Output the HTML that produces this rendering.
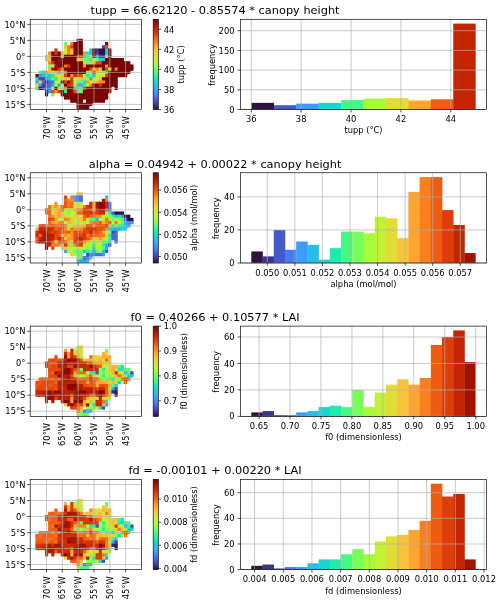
<!DOCTYPE html>
<html><head><meta charset="utf-8"><title>figure</title>
<style>html,body{margin:0;padding:0;background:#fff}svg{display:block}text{font-family:'DejaVu Sans','Liberation Sans',sans-serif;fill:#000}</style>
</head><body>
<svg width="500" height="604" viewBox="0 0 500 604">
<rect width="500" height="604" fill="#fff"/>
<defs>
<linearGradient id="tb" x1="0" y1="0" x2="0" y2="1"><stop offset="0.0000" stop-color="#7a0403"/><stop offset="0.0250" stop-color="#8e0a01"/><stop offset="0.0500" stop-color="#a11201"/><stop offset="0.0750" stop-color="#b41b01"/><stop offset="0.1000" stop-color="#c32503"/><stop offset="0.1250" stop-color="#d02f05"/><stop offset="0.1500" stop-color="#dd3d08"/><stop offset="0.1750" stop-color="#e7490c"/><stop offset="0.2000" stop-color="#f05b12"/><stop offset="0.2250" stop-color="#f66c19"/><stop offset="0.2500" stop-color="#fb7e21"/><stop offset="0.2750" stop-color="#fe932a"/><stop offset="0.3000" stop-color="#fea431"/><stop offset="0.3250" stop-color="#fbb637"/><stop offset="0.3500" stop-color="#f6c33a"/><stop offset="0.3750" stop-color="#eecf3a"/><stop offset="0.4000" stop-color="#e1dd37"/><stop offset="0.4250" stop-color="#d4e735"/><stop offset="0.4500" stop-color="#c3f134"/><stop offset="0.4750" stop-color="#b4f836"/><stop offset="0.5000" stop-color="#a4fc3c"/><stop offset="0.5250" stop-color="#8fff49"/><stop offset="0.5500" stop-color="#79fe59"/><stop offset="0.5750" stop-color="#5dfc6f"/><stop offset="0.6000" stop-color="#46f884"/><stop offset="0.6250" stop-color="#32f298"/><stop offset="0.6500" stop-color="#20eaac"/><stop offset="0.6750" stop-color="#19e2bb"/><stop offset="0.7000" stop-color="#19d5cd"/><stop offset="0.7250" stop-color="#1fc9dd"/><stop offset="0.7500" stop-color="#28bceb"/><stop offset="0.7750" stop-color="#35abf8"/><stop offset="0.8000" stop-color="#3e9bfe"/><stop offset="0.8250" stop-color="#458afc"/><stop offset="0.8500" stop-color="#477bf2"/><stop offset="0.8750" stop-color="#466be3"/><stop offset="0.9000" stop-color="#4559cb"/><stop offset="0.9250" stop-color="#4249b1"/><stop offset="0.9500" stop-color="#3d358b"/><stop offset="0.9750" stop-color="#372466"/><stop offset="1.0000" stop-color="#30123b"/></linearGradient>
</defs>
<text x="215.10" y="14.10" font-size="11.35" text-anchor="middle">tupp = 66.62120 - 0.85574 * canopy height</text>
<g>
<rect x="76.57" y="38.80" width="6.33" height="4.20" fill="#7a0403"/>
<rect x="63.91" y="42.00" width="3.17" height="4.20" fill="#71fe5f"/>
<path d="M70.24 42.00h4.17v3.20h-1.00v1.00h-3.17z" fill="#f9751d"/>
<rect x="73.40" y="42.00" width="9.50" height="4.20" fill="#7a0403"/>
<rect x="105.05" y="42.00" width="3.17" height="4.20" fill="#7a0403"/>
<path d="M63.91 45.20h4.17v3.20h-1.00v1.00h-3.17z" fill="#f4c73a"/>
<path d="M67.07 45.20h4.17v3.20h-1.00v1.00h-3.17z" fill="#fa7b1f"/>
<path d="M70.24 45.20h4.17v3.20h-1.00v1.00h-3.17z" fill="#dd3d08"/>
<rect x="73.40" y="45.20" width="9.50" height="4.20" fill="#7a0403"/>
<path d="M101.89 45.20h4.17v3.20h-1.00v1.00h-3.17z" fill="#4146ac"/>
<rect x="105.05" y="45.20" width="3.17" height="4.20" fill="#ea4e0d"/>
<rect x="54.41" y="48.40" width="3.17" height="4.20" fill="#d23105"/>
<path d="M63.91 48.40h4.17v3.20h-1.00v1.00h-3.17z" fill="#c8ef34"/>
<path d="M67.07 48.40h4.17v3.20h-1.00v1.00h-3.17z" fill="#fb7e21"/>
<path d="M70.24 48.40h4.17v3.20h-1.00v1.00h-3.17z" fill="#fbb838"/>
<rect x="73.40" y="48.40" width="9.50" height="4.20" fill="#7a0403"/>
<path d="M89.23 48.40h4.17v3.20h-1.00v1.00h-3.17z" fill="#23c3e4"/>
<path d="M92.39 48.40h4.17v3.20h-1.00v1.00h-3.17z" fill="#7a0403"/>
<path d="M95.56 48.40h4.17v3.20h-1.00v1.00h-3.17z" fill="#3e3891"/>
<path d="M98.72 48.40h7.33v3.20h-1.00v1.00h-6.33z" fill="#30123b"/>
<path d="M105.05 48.40h4.17v3.20h-1.00v1.00h-3.17z" fill="#27bee9"/>
<rect x="108.22" y="48.40" width="3.17" height="4.20" fill="#7a0403"/>
<path d="M48.08 51.60h4.17v3.20h-1.00v1.00h-3.17z" fill="#fd8d27"/>
<path d="M51.25 51.60h4.17v3.20h-1.00v1.00h-3.17z" fill="#7a0403"/>
<path d="M54.41 51.60h4.17v3.20h-1.00v1.00h-3.17z" fill="#d63506"/>
<path d="M57.58 51.60h4.17v3.20h-1.00v1.00h-3.17z" fill="#7a0403"/>
<path d="M60.74 51.60h4.17v3.20h-1.00v1.00h-3.17z" fill="#f7c13a"/>
<path d="M63.91 51.60h4.17v3.20h-1.00v1.00h-3.17z" fill="#c3f134"/>
<path d="M67.07 51.60h4.17v3.20h-1.00v1.00h-3.17z" fill="#fc8725"/>
<path d="M70.24 51.60h4.17v3.20h-1.00v1.00h-3.17z" fill="#f9bc39"/>
<path d="M73.40 51.60h10.50v3.20h-1.00v1.00h-9.50z" fill="#7a0403"/>
<path d="M82.90 51.60h4.17v3.20h-1.00v1.00h-3.17z" fill="#fe962b"/>
<path d="M86.06 51.60h4.17v3.20h-1.00v1.00h-3.17z" fill="#19e3b9"/>
<path d="M89.23 51.60h4.17v3.20h-1.00v1.00h-3.17z" fill="#20c7df"/>
<path d="M92.39 51.60h4.17v3.20h-1.00v1.00h-3.17z" fill="#7a0403"/>
<path d="M95.56 51.60h4.17v3.20h-1.00v1.00h-3.17z" fill="#4040a2"/>
<path d="M98.72 51.60h7.33v3.20h-1.00v1.00h-6.33z" fill="#30123b"/>
<path d="M105.05 51.60h4.17v3.20h-1.00v1.00h-3.17z" fill="#23c3e4"/>
<rect x="108.22" y="51.60" width="3.17" height="4.20" fill="#7a0403"/>
<path d="M44.92 54.80h4.17v3.20h-1.00v1.00h-3.17z" fill="#e3db38"/>
<path d="M48.08 54.80h4.17v3.20h-1.00v1.00h-3.17z" fill="#f9bc39"/>
<path d="M51.25 54.80h10.50v3.20h-1.00v1.00h-9.50z" fill="#7a0403"/>
<path d="M60.74 54.80h4.17v3.20h-1.00v1.00h-3.17z" fill="#f8be39"/>
<path d="M63.91 54.80h13.66v3.20h-1.00v1.00h-12.66z" fill="#7a0403"/>
<path d="M76.57 54.80h4.17v3.20h-1.00v1.00h-3.17z" fill="#e14109"/>
<path d="M79.73 54.80h4.17v3.20h-1.00v1.00h-3.17z" fill="#e2430a"/>
<path d="M82.90 54.80h4.17v3.20h-1.00v1.00h-3.17z" fill="#22ebaa"/>
<path d="M86.06 54.80h4.17v3.20h-1.00v1.00h-3.17z" fill="#55fa76"/>
<path d="M89.23 54.80h4.17v3.20h-1.00v1.00h-3.17z" fill="#a7fc3a"/>
<path d="M92.39 54.80h4.17v3.20h-1.00v1.00h-3.17z" fill="#7a0403"/>
<path d="M95.56 54.80h4.17v3.20h-1.00v1.00h-3.17z" fill="#25c0e7"/>
<path d="M98.72 54.80h4.17v3.20h-1.00v1.00h-3.17z" fill="#4146ac"/>
<path d="M101.89 54.80h4.17v3.20h-1.00v1.00h-3.17z" fill="#4143a7"/>
<path d="M105.05 54.80h4.17v3.20h-1.00v1.00h-3.17z" fill="#efcd3a"/>
<rect x="108.22" y="54.80" width="3.17" height="4.20" fill="#7a0403"/>
<rect x="44.92" y="58.00" width="4.17" height="3.20" fill="#fbb637"/>
<path d="M48.08 58.00h4.17v3.20h-1.00v1.00h-3.17z" fill="#f8be39"/>
<path d="M51.25 58.00h7.33v3.20h-1.00v1.00h-6.33z" fill="#7a0403"/>
<path d="M57.58 58.00h4.17v3.20h-1.00v1.00h-3.17z" fill="#980e01"/>
<path d="M60.74 58.00h16.82v3.20h-1.00v1.00h-15.82z" fill="#7a0403"/>
<path d="M76.57 58.00h4.17v3.20h-1.00v1.00h-3.17z" fill="#e3db38"/>
<path d="M79.73 58.00h4.17v3.20h-1.00v1.00h-3.17z" fill="#f6c33a"/>
<path d="M82.90 58.00h4.17v3.20h-1.00v1.00h-3.17z" fill="#65fd69"/>
<path d="M86.06 58.00h4.17v3.20h-1.00v1.00h-3.17z" fill="#59fb73"/>
<path d="M89.23 58.00h4.17v3.20h-1.00v1.00h-3.17z" fill="#1fe9af"/>
<path d="M92.39 58.00h4.17v3.20h-1.00v1.00h-3.17z" fill="#b4f836"/>
<path d="M95.56 58.00h4.17v3.20h-1.00v1.00h-3.17z" fill="#69fd66"/>
<path d="M98.72 58.00h4.17v3.20h-1.00v1.00h-3.17z" fill="#1ecbda"/>
<path d="M101.89 58.00h4.17v3.20h-1.00v1.00h-3.17z" fill="#22c5e2"/>
<rect x="105.05" y="58.00" width="18.99" height="4.20" fill="#7a0403"/>
<path d="M48.08 61.20h4.17v3.20h-1.00v1.00h-3.17z" fill="#fc8423"/>
<path d="M51.25 61.20h4.17v3.20h-1.00v1.00h-3.17z" fill="#d83706"/>
<path d="M54.41 61.20h4.17v3.20h-1.00v1.00h-3.17z" fill="#7a0403"/>
<path d="M57.58 61.20h4.17v3.20h-1.00v1.00h-3.17z" fill="#8e0a01"/>
<path d="M60.74 61.20h23.16v3.20h-1.00v1.00h-22.16z" fill="#7a0403"/>
<path d="M82.90 61.20h4.17v3.20h-1.00v1.00h-3.17z" fill="#f5c53a"/>
<path d="M86.06 61.20h4.17v3.20h-1.00v1.00h-3.17z" fill="#69fd66"/>
<path d="M89.23 61.20h4.17v3.20h-1.00v1.00h-3.17z" fill="#f2c93a"/>
<path d="M92.39 61.20h4.17v3.20h-1.00v1.00h-3.17z" fill="#f6c33a"/>
<path d="M95.56 61.20h4.17v3.20h-1.00v1.00h-3.17z" fill="#e5470b"/>
<path d="M98.72 61.20h4.17v3.20h-1.00v1.00h-3.17z" fill="#e84b0c"/>
<rect x="101.89" y="61.20" width="28.48" height="4.20" fill="#7a0403"/>
<path d="M48.08 64.40h4.17v3.20h-1.00v1.00h-3.17z" fill="#71fe5f"/>
<path d="M51.25 64.40h4.17v3.20h-1.00v1.00h-3.17z" fill="#c8ef34"/>
<path d="M54.41 64.40h4.17v3.20h-1.00v1.00h-3.17z" fill="#a11201"/>
<path d="M57.58 64.40h7.33v3.20h-1.00v1.00h-6.33z" fill="#7a0403"/>
<path d="M63.91 64.40h4.17v3.20h-1.00v1.00h-3.17z" fill="#f8721c"/>
<path d="M67.07 64.40h4.17v3.20h-1.00v1.00h-3.17z" fill="#d83706"/>
<path d="M70.24 64.40h13.66v3.20h-1.00v1.00h-12.66z" fill="#7a0403"/>
<path d="M82.90 64.40h4.17v3.20h-1.00v1.00h-3.17z" fill="#fe932a"/>
<path d="M86.06 64.40h19.99v3.20h-1.00v1.00h-18.99z" fill="#7a0403"/>
<path d="M105.05 64.40h4.17v3.20h-1.00v1.00h-3.17z" fill="#fb8122"/>
<rect x="108.22" y="64.40" width="25.32" height="4.20" fill="#7a0403"/>
<path d="M48.08 67.60h4.17v3.20h-1.00v1.00h-3.17z" fill="#f9bc39"/>
<path d="M51.25 67.60h4.17v3.20h-1.00v1.00h-3.17z" fill="#a91601"/>
<path d="M54.41 67.60h4.17v3.20h-1.00v1.00h-3.17z" fill="#7a0403"/>
<path d="M57.58 67.60h4.17v3.20h-1.00v1.00h-3.17z" fill="#d83706"/>
<path d="M60.74 67.60h4.17v3.20h-1.00v1.00h-3.17z" fill="#f9751d"/>
<path d="M63.91 67.60h26.32v3.20h-1.00v1.00h-25.32z" fill="#7a0403"/>
<path d="M89.23 67.60h4.17v3.20h-1.00v1.00h-3.17z" fill="#dd3d08"/>
<path d="M92.39 67.60h4.17v3.20h-1.00v1.00h-3.17z" fill="#fbb637"/>
<path d="M95.56 67.60h4.17v3.20h-1.00v1.00h-3.17z" fill="#fb7e21"/>
<path d="M98.72 67.60h4.17v3.20h-1.00v1.00h-3.17z" fill="#f4c73a"/>
<path d="M101.89 67.60h4.17v3.20h-1.00v1.00h-3.17z" fill="#7a0403"/>
<path d="M105.05 67.60h4.17v3.20h-1.00v1.00h-3.17z" fill="#e4450a"/>
<path d="M108.22 67.60h4.17v3.20h-1.00v1.00h-3.17z" fill="#c1f334"/>
<path d="M111.38 67.60h4.17v3.20h-1.00v1.00h-3.17z" fill="#7a0403"/>
<path d="M114.55 67.60h4.17v3.20h-1.00v1.00h-3.17z" fill="#fa7b1f"/>
<path d="M117.71 67.60h13.66v3.20h-1.00v1.00h-12.66z" fill="#7a0403"/>
<rect x="130.37" y="67.60" width="3.17" height="3.20" fill="#7a0403"/>
<path d="M38.59 70.80h4.17v3.20h-1.00v1.00h-3.17z" fill="#4ef97d"/>
<path d="M41.75 70.80h4.17v3.20h-1.00v1.00h-3.17z" fill="#19e2bb"/>
<path d="M44.92 70.80h4.17v3.20h-1.00v1.00h-3.17z" fill="#fe962b"/>
<path d="M48.08 70.80h4.17v3.20h-1.00v1.00h-3.17z" fill="#f5c53a"/>
<path d="M51.25 70.80h4.17v3.20h-1.00v1.00h-3.17z" fill="#b4f836"/>
<path d="M54.41 70.80h4.17v3.20h-1.00v1.00h-3.17z" fill="#faba39"/>
<path d="M57.58 70.80h4.17v3.20h-1.00v1.00h-3.17z" fill="#fe9029"/>
<path d="M60.74 70.80h4.17v3.20h-1.00v1.00h-3.17z" fill="#cbed34"/>
<path d="M63.91 70.80h4.17v3.20h-1.00v1.00h-3.17z" fill="#f9781e"/>
<path d="M67.07 70.80h19.99v3.20h-1.00v1.00h-18.99z" fill="#7a0403"/>
<path d="M86.06 70.80h4.17v3.20h-1.00v1.00h-3.17z" fill="#a9fb39"/>
<path d="M89.23 70.80h4.17v3.20h-1.00v1.00h-3.17z" fill="#affa37"/>
<path d="M92.39 70.80h4.17v3.20h-1.00v1.00h-3.17z" fill="#e2430a"/>
<path d="M95.56 70.80h4.17v3.20h-1.00v1.00h-3.17z" fill="#b7f735"/>
<path d="M98.72 70.80h4.17v3.20h-1.00v1.00h-3.17z" fill="#c8ef34"/>
<path d="M101.89 70.80h4.17v3.20h-1.00v1.00h-3.17z" fill="#bcf534"/>
<path d="M105.05 70.80h4.17v3.20h-1.00v1.00h-3.17z" fill="#27eea4"/>
<path d="M108.22 70.80h19.99v3.20h-1.00v1.00h-18.99z" fill="#7a0403"/>
<rect x="127.21" y="70.80" width="3.17" height="3.20" fill="#7a0403"/>
<path d="M35.42 74.00h4.17v3.20h-1.00v1.00h-3.17z" fill="#7a0403"/>
<path d="M38.59 74.00h4.17v3.20h-1.00v1.00h-3.17z" fill="#4391fe"/>
<path d="M41.75 74.00h4.17v3.20h-1.00v1.00h-3.17z" fill="#1fc9dd"/>
<path d="M44.92 74.00h4.17v3.20h-1.00v1.00h-3.17z" fill="#1ae4b6"/>
<path d="M48.08 74.00h4.17v3.20h-1.00v1.00h-3.17z" fill="#1ccdd8"/>
<path d="M51.25 74.00h4.17v3.20h-1.00v1.00h-3.17z" fill="#1fe9af"/>
<path d="M54.41 74.00h4.17v3.20h-1.00v1.00h-3.17z" fill="#f2c93a"/>
<path d="M57.58 74.00h4.17v3.20h-1.00v1.00h-3.17z" fill="#c1f334"/>
<path d="M60.74 74.00h4.17v3.20h-1.00v1.00h-3.17z" fill="#c6f034"/>
<path d="M63.91 74.00h4.17v3.20h-1.00v1.00h-3.17z" fill="#df3f08"/>
<path d="M67.07 74.00h4.17v3.20h-1.00v1.00h-3.17z" fill="#7a0403"/>
<path d="M70.24 74.00h4.17v3.20h-1.00v1.00h-3.17z" fill="#fd8a26"/>
<path d="M73.40 74.00h4.17v3.20h-1.00v1.00h-3.17z" fill="#d43305"/>
<path d="M76.57 74.00h4.17v3.20h-1.00v1.00h-3.17z" fill="#df3f08"/>
<path d="M79.73 74.00h4.17v3.20h-1.00v1.00h-3.17z" fill="#e5470b"/>
<path d="M82.90 74.00h4.17v3.20h-1.00v1.00h-3.17z" fill="#bef434"/>
<path d="M86.06 74.00h4.17v3.20h-1.00v1.00h-3.17z" fill="#20eaac"/>
<path d="M89.23 74.00h4.17v3.20h-1.00v1.00h-3.17z" fill="#5dfc6f"/>
<path d="M92.39 74.00h4.17v3.20h-1.00v1.00h-3.17z" fill="#37a8fa"/>
<path d="M95.56 74.00h4.17v3.20h-1.00v1.00h-3.17z" fill="#b7f735"/>
<path d="M98.72 74.00h4.17v3.20h-1.00v1.00h-3.17z" fill="#b9f635"/>
<path d="M101.89 74.00h4.17v3.20h-1.00v1.00h-3.17z" fill="#e1dd37"/>
<path d="M105.05 74.00h4.17v3.20h-1.00v1.00h-3.17z" fill="#e4450a"/>
<path d="M108.22 74.00h10.50v3.20h-1.00v1.00h-9.50z" fill="#7a0403"/>
<rect x="117.71" y="74.00" width="9.50" height="3.20" fill="#7a0403"/>
<path d="M35.42 77.20h4.17v3.20h-1.00v1.00h-3.17z" fill="#18e0bd"/>
<path d="M38.59 77.20h4.17v3.20h-1.00v1.00h-3.17z" fill="#424bb5"/>
<path d="M41.75 77.20h4.17v3.20h-1.00v1.00h-3.17z" fill="#4249b1"/>
<path d="M44.92 77.20h4.17v3.20h-1.00v1.00h-3.17z" fill="#3e9bfe"/>
<path d="M48.08 77.20h4.17v3.20h-1.00v1.00h-3.17z" fill="#18e0bd"/>
<path d="M51.25 77.20h4.17v3.20h-1.00v1.00h-3.17z" fill="#52fa7a"/>
<path d="M54.41 77.20h4.17v3.20h-1.00v1.00h-3.17z" fill="#1de7b2"/>
<path d="M57.58 77.20h4.17v3.20h-1.00v1.00h-3.17z" fill="#b1f936"/>
<path d="M60.74 77.20h4.17v3.20h-1.00v1.00h-3.17z" fill="#e3db38"/>
<path d="M63.91 77.20h4.17v3.20h-1.00v1.00h-3.17z" fill="#faba39"/>
<path d="M67.07 77.20h4.17v3.20h-1.00v1.00h-3.17z" fill="#cdec34"/>
<path d="M70.24 77.20h4.17v3.20h-1.00v1.00h-3.17z" fill="#da3907"/>
<path d="M73.40 77.20h4.17v3.20h-1.00v1.00h-3.17z" fill="#cbed34"/>
<path d="M76.57 77.20h4.17v3.20h-1.00v1.00h-3.17z" fill="#b9f635"/>
<path d="M79.73 77.20h4.17v3.20h-1.00v1.00h-3.17z" fill="#f6c33a"/>
<path d="M82.90 77.20h4.17v3.20h-1.00v1.00h-3.17z" fill="#6dfe62"/>
<path d="M86.06 77.20h4.17v3.20h-1.00v1.00h-3.17z" fill="#a7fc3a"/>
<path d="M89.23 77.20h4.17v3.20h-1.00v1.00h-3.17z" fill="#3ba0fd"/>
<path d="M92.39 77.20h4.17v3.20h-1.00v1.00h-3.17z" fill="#bcf534"/>
<path d="M95.56 77.20h4.17v3.20h-1.00v1.00h-3.17z" fill="#affa37"/>
<path d="M98.72 77.20h4.17v3.20h-1.00v1.00h-3.17z" fill="#f7c13a"/>
<rect x="101.89" y="77.20" width="15.82" height="4.20" fill="#7a0403"/>
<path d="M35.42 80.40h4.17v3.20h-1.00v1.00h-3.17z" fill="#3ba0fd"/>
<path d="M38.59 80.40h4.17v3.20h-1.00v1.00h-3.17z" fill="#f1cb3a"/>
<path d="M41.75 80.40h4.17v3.20h-1.00v1.00h-3.17z" fill="#476ee6"/>
<path d="M44.92 80.40h4.17v3.20h-1.00v1.00h-3.17z" fill="#3e3891"/>
<path d="M48.08 80.40h4.17v3.20h-1.00v1.00h-3.17z" fill="#466be3"/>
<path d="M51.25 80.40h4.17v3.20h-1.00v1.00h-3.17z" fill="#4773eb"/>
<path d="M54.41 80.40h4.17v3.20h-1.00v1.00h-3.17z" fill="#a4fc3c"/>
<path d="M57.58 80.40h4.17v3.20h-1.00v1.00h-3.17z" fill="#b1f936"/>
<path d="M60.74 80.40h4.17v3.20h-1.00v1.00h-3.17z" fill="#7a0403"/>
<path d="M63.91 80.40h4.17v3.20h-1.00v1.00h-3.17z" fill="#e14109"/>
<path d="M67.07 80.40h4.17v3.20h-1.00v1.00h-3.17z" fill="#7a0403"/>
<path d="M70.24 80.40h4.17v3.20h-1.00v1.00h-3.17z" fill="#dc3b07"/>
<path d="M73.40 80.40h4.17v3.20h-1.00v1.00h-3.17z" fill="#b7f735"/>
<path d="M76.57 80.40h4.17v3.20h-1.00v1.00h-3.17z" fill="#59fb73"/>
<path d="M79.73 80.40h4.17v3.20h-1.00v1.00h-3.17z" fill="#61fc6c"/>
<path d="M82.90 80.40h4.17v3.20h-1.00v1.00h-3.17z" fill="#1ae4b6"/>
<path d="M86.06 80.40h4.17v3.20h-1.00v1.00h-3.17z" fill="#fe932a"/>
<path d="M89.23 80.40h4.17v3.20h-1.00v1.00h-3.17z" fill="#bef434"/>
<path d="M92.39 80.40h4.17v3.20h-1.00v1.00h-3.17z" fill="#f2c93a"/>
<path d="M95.56 80.40h4.17v3.20h-1.00v1.00h-3.17z" fill="#fbb838"/>
<path d="M98.72 80.40h4.17v3.20h-1.00v1.00h-3.17z" fill="#fc8423"/>
<path d="M101.89 80.40h4.17v3.20h-1.00v1.00h-3.17z" fill="#fc8725"/>
<rect x="105.05" y="80.40" width="12.66" height="4.20" fill="#7a0403"/>
<path d="M35.42 83.60h4.17v3.20h-1.00v1.00h-3.17z" fill="#f1cb3a"/>
<path d="M38.59 83.60h4.17v3.20h-1.00v1.00h-3.17z" fill="#4196ff"/>
<path d="M41.75 83.60h4.17v3.20h-1.00v1.00h-3.17z" fill="#4040a2"/>
<path d="M44.92 83.60h4.17v3.20h-1.00v1.00h-3.17z" fill="#4661d6"/>
<path d="M48.08 83.60h4.17v3.20h-1.00v1.00h-3.17z" fill="#4666dd"/>
<path d="M51.25 83.60h4.17v3.20h-1.00v1.00h-3.17z" fill="#4099ff"/>
<path d="M54.41 83.60h4.17v3.20h-1.00v1.00h-3.17z" fill="#a9fb39"/>
<path d="M57.58 83.60h4.17v3.20h-1.00v1.00h-3.17z" fill="#38a5fb"/>
<path d="M60.74 83.60h4.17v3.20h-1.00v1.00h-3.17z" fill="#acfb38"/>
<path d="M63.91 83.60h4.17v3.20h-1.00v1.00h-3.17z" fill="#7a0403"/>
<path d="M67.07 83.60h4.17v3.20h-1.00v1.00h-3.17z" fill="#d63506"/>
<path d="M70.24 83.60h4.17v3.20h-1.00v1.00h-3.17z" fill="#dc3b07"/>
<path d="M73.40 83.60h4.17v3.20h-1.00v1.00h-3.17z" fill="#bef434"/>
<path d="M76.57 83.60h4.17v3.20h-1.00v1.00h-3.17z" fill="#3d9efe"/>
<path d="M79.73 83.60h4.17v3.20h-1.00v1.00h-3.17z" fill="#3aa3fc"/>
<path d="M82.90 83.60h4.17v3.20h-1.00v1.00h-3.17z" fill="#25eca7"/>
<path d="M86.06 83.60h4.17v3.20h-1.00v1.00h-3.17z" fill="#c3f134"/>
<path d="M89.23 83.60h4.17v3.20h-1.00v1.00h-3.17z" fill="#fb8122"/>
<path d="M92.39 83.60h7.33v3.20h-1.00v1.00h-6.33z" fill="#7a0403"/>
<path d="M98.72 83.60h4.17v3.20h-1.00v1.00h-3.17z" fill="#d43305"/>
<path d="M101.89 83.60h10.50v3.20h-1.00v1.00h-9.50z" fill="#7a0403"/>
<rect x="111.38" y="83.60" width="4.17" height="3.20" fill="#7a0403"/>
<rect x="114.55" y="83.60" width="3.17" height="4.20" fill="#7a0403"/>
<rect x="35.42" y="86.80" width="4.17" height="3.20" fill="#4ef97d"/>
<rect x="38.59" y="86.80" width="4.17" height="3.20" fill="#30123b"/>
<rect x="41.75" y="86.80" width="4.17" height="3.20" fill="#3f3e9c"/>
<path d="M44.92 86.80h4.17v3.20h-1.00v1.00h-3.17z" fill="#4669e0"/>
<path d="M48.08 86.80h4.17v3.20h-1.00v1.00h-3.17z" fill="#4771e9"/>
<path d="M51.25 86.80h4.17v3.20h-1.00v1.00h-3.17z" fill="#a4fc3c"/>
<path d="M54.41 86.80h4.17v3.20h-1.00v1.00h-3.17z" fill="#7a0403"/>
<path d="M57.58 86.80h4.17v3.20h-1.00v1.00h-3.17z" fill="#c6f034"/>
<path d="M60.74 86.80h4.17v3.20h-1.00v1.00h-3.17z" fill="#acfb38"/>
<path d="M63.91 86.80h4.17v3.20h-1.00v1.00h-3.17z" fill="#fe9029"/>
<path d="M67.07 86.80h7.33v3.20h-1.00v1.00h-6.33z" fill="#7a0403"/>
<path d="M73.40 86.80h4.17v3.20h-1.00v1.00h-3.17z" fill="#1ce6b4"/>
<path d="M76.57 86.80h4.17v3.20h-1.00v1.00h-3.17z" fill="#61fc6c"/>
<path d="M79.73 86.80h4.17v3.20h-1.00v1.00h-3.17z" fill="#55fa76"/>
<path d="M82.90 86.80h4.17v3.20h-1.00v1.00h-3.17z" fill="#e7490c"/>
<rect x="86.06" y="86.80" width="25.32" height="4.20" fill="#7a0403"/>
<rect x="114.55" y="86.80" width="3.17" height="3.20" fill="#7a0403"/>
<path d="M44.92 90.00h4.17v3.20h-1.00v1.00h-3.17z" fill="#3f3b97"/>
<rect x="48.08" y="90.00" width="4.17" height="3.20" fill="#448ffe"/>
<path d="M51.25 90.00h4.17v3.20h-1.00v1.00h-3.17z" fill="#e84b0c"/>
<rect x="54.41" y="90.00" width="4.17" height="3.20" fill="#fd8d27"/>
<rect x="57.58" y="90.00" width="4.17" height="3.20" fill="#da3907"/>
<path d="M60.74 90.00h4.17v3.20h-1.00v1.00h-3.17z" fill="#7a0403"/>
<path d="M63.91 90.00h4.17v3.20h-1.00v1.00h-3.17z" fill="#22ebaa"/>
<path d="M67.07 90.00h7.33v3.20h-1.00v1.00h-6.33z" fill="#7a0403"/>
<path d="M73.40 90.00h4.17v3.20h-1.00v1.00h-3.17z" fill="#e7490c"/>
<path d="M76.57 90.00h4.17v3.20h-1.00v1.00h-3.17z" fill="#5dfc6f"/>
<path d="M79.73 90.00h4.17v3.20h-1.00v1.00h-3.17z" fill="#65fd69"/>
<path d="M82.90 90.00h26.32v3.20h-1.00v1.00h-25.32z" fill="#7a0403"/>
<rect x="108.22" y="90.00" width="3.17" height="3.20" fill="#7a0403"/>
<rect x="44.92" y="93.20" width="3.17" height="3.20" fill="#30123b"/>
<rect x="51.25" y="93.20" width="3.17" height="3.20" fill="#6dfe62"/>
<rect x="60.74" y="93.20" width="4.17" height="3.20" fill="#7a0403"/>
<rect x="63.91" y="93.20" width="44.31" height="4.20" fill="#7a0403"/>
<rect x="63.91" y="96.40" width="7.33" height="3.20" fill="#7a0403"/>
<path d="M70.24 96.40h13.66v3.20h-1.00v1.00h-12.66z" fill="#7a0403"/>
<rect x="82.90" y="96.40" width="4.17" height="3.20" fill="#7a0403"/>
<path d="M86.06 96.40h19.99v3.20h-1.00v1.00h-18.99z" fill="#7a0403"/>
<rect x="105.05" y="96.40" width="3.17" height="3.20" fill="#7a0403"/>
<rect x="70.24" y="99.60" width="7.33" height="3.20" fill="#7a0403"/>
<rect x="76.57" y="99.60" width="6.33" height="4.20" fill="#7a0403"/>
<path d="M86.06 99.60h7.33v3.20h-1.00v1.00h-6.33z" fill="#7a0403"/>
<rect x="92.39" y="99.60" width="12.66" height="3.20" fill="#7a0403"/>
<path d="M76.57 102.80h13.66v3.20h-1.00v1.00h-12.66z" fill="#7a0403"/>
<rect x="89.23" y="102.80" width="3.17" height="3.20" fill="#7a0403"/>
<rect x="76.57" y="106.00" width="12.66" height="3.20" fill="#7a0403"/>
</g>
<path d="M46.50 19.30V109.55M62.33 19.30V109.55M78.15 19.30V109.55M93.97 19.30V109.55M109.80 19.30V109.55M125.62 19.30V109.55M30.20 24.40H141.50M30.20 40.40H141.50M30.20 56.40H141.50M30.20 72.40H141.50M30.20 88.40H141.50M30.20 104.40H141.50" stroke="#b0b0b0" stroke-width="0.67" fill="none"/>
<path d="M46.50 109.55v2.9M62.33 109.55v2.9M78.15 109.55v2.9M93.97 109.55v2.9M109.80 109.55v2.9M125.62 109.55v2.9M30.20 24.40h-2.9M30.20 40.40h-2.9M30.20 56.40h-2.9M30.20 72.40h-2.9M30.20 88.40h-2.9M30.20 104.40h-2.9" stroke="#000" stroke-width="0.67" fill="none"/>
<rect x="30.20" y="19.30" width="111.30" height="90.25" fill="none" stroke="#000" stroke-width="0.67"/>
<text transform="translate(49.60 116.15) rotate(-90)" text-anchor="end" font-size="8.33">70°W</text>
<text transform="translate(65.42 116.15) rotate(-90)" text-anchor="end" font-size="8.33">65°W</text>
<text transform="translate(81.25 116.15) rotate(-90)" text-anchor="end" font-size="8.33">60°W</text>
<text transform="translate(97.07 116.15) rotate(-90)" text-anchor="end" font-size="8.33">55°W</text>
<text transform="translate(112.90 116.15) rotate(-90)" text-anchor="end" font-size="8.33">50°W</text>
<text transform="translate(128.72 116.15) rotate(-90)" text-anchor="end" font-size="8.33">45°W</text>
<text x="25.40" y="27.50" text-anchor="end" font-size="8.33">10°N</text>
<text x="25.40" y="43.50" text-anchor="end" font-size="8.33">5°N</text>
<text x="25.40" y="59.50" text-anchor="end" font-size="8.33">0°</text>
<text x="25.40" y="75.50" text-anchor="end" font-size="8.33">5°S</text>
<text x="25.40" y="91.50" text-anchor="end" font-size="8.33">10°S</text>
<text x="25.40" y="107.50" text-anchor="end" font-size="8.33">15°S</text>
<rect x="153.20" y="19.30" width="5.10" height="90.25" fill="url(#tb)" stroke="#000" stroke-width="0.67"/>
<text x="163.80" y="112.85" font-size="8.33">36</text>
<text x="163.80" y="92.79" font-size="8.33">38</text>
<text x="163.80" y="72.74" font-size="8.33">40</text>
<text x="163.80" y="52.68" font-size="8.33">42</text>
<text x="163.80" y="32.63" font-size="8.33">44</text>
<path d="M158.30 109.55h2.9M158.30 89.49h2.9M158.30 69.44h2.9M158.30 49.38h2.9M158.30 29.33h2.9" stroke="#000" stroke-width="0.67" fill="none"/>
<text transform="translate(184.40 64.42) rotate(-90)" text-anchor="middle" font-size="8.33">tupp (°C)</text>
<rect x="251.30" y="102.85" width="22.74" height="6.70" fill="#30123b"/>
<rect x="273.74" y="105.21" width="22.74" height="4.34" fill="#4559cb"/>
<rect x="296.18" y="103.64" width="22.74" height="5.91" fill="#3e9bfe"/>
<rect x="318.62" y="102.85" width="22.74" height="6.70" fill="#19d5cd"/>
<rect x="341.06" y="100.09" width="22.74" height="9.46" fill="#46f884"/>
<rect x="363.50" y="98.51" width="22.74" height="11.04" fill="#a4fc3c"/>
<rect x="385.94" y="98.12" width="22.74" height="11.43" fill="#e1dd37"/>
<rect x="408.38" y="100.48" width="22.74" height="9.07" fill="#fea431"/>
<rect x="430.82" y="99.30" width="22.74" height="10.25" fill="#f05b12"/>
<rect x="453.26" y="23.60" width="22.44" height="85.95" fill="#c32503"/>
<text x="251.30" y="122.35" text-anchor="middle" font-size="8.33">36</text>
<text x="301.17" y="122.35" text-anchor="middle" font-size="8.33">38</text>
<text x="351.03" y="122.35" text-anchor="middle" font-size="8.33">40</text>
<text x="400.90" y="122.35" text-anchor="middle" font-size="8.33">42</text>
<text x="450.77" y="122.35" text-anchor="middle" font-size="8.33">44</text>
<text x="234.50" y="112.65" text-anchor="end" font-size="8.33">0</text>
<text x="234.50" y="92.94" text-anchor="end" font-size="8.33">50</text>
<text x="234.50" y="73.22" text-anchor="end" font-size="8.33">100</text>
<text x="234.50" y="53.51" text-anchor="end" font-size="8.33">150</text>
<text x="234.50" y="33.79" text-anchor="end" font-size="8.33">200</text>
<path d="M251.30 19.30V109.55M301.17 19.30V109.55M351.03 19.30V109.55M400.90 19.30V109.55M450.77 19.30V109.55M240.40 109.55H486.60M240.40 89.84H486.60M240.40 70.12H486.60M240.40 50.41H486.60M240.40 30.69H486.60" stroke="#b0b0b0" stroke-width="0.67" fill="none"/>
<path d="M251.30 109.55v2.9M301.17 109.55v2.9M351.03 109.55v2.9M400.90 109.55v2.9M450.77 109.55v2.9M240.40 109.55h-2.9M240.40 89.84h-2.9M240.40 70.12h-2.9M240.40 50.41h-2.9M240.40 30.69h-2.9" stroke="#000" stroke-width="0.67" fill="none"/>
<rect x="240.40" y="19.30" width="246.20" height="90.25" fill="none" stroke="#000" stroke-width="0.67"/>
<text x="363.50" y="133.45" text-anchor="middle" font-size="8.33">tupp (°C)</text>
<text transform="translate(215.40 65.02) rotate(-90)" text-anchor="middle" font-size="8.33">frequency</text>
<text x="215.10" y="167.55" font-size="11.35" text-anchor="middle">alpha = 0.04942 + 0.00022 * canopy height</text>
<g>
<rect x="76.57" y="192.25" width="6.33" height="4.20" fill="#efcd3a"/>
<rect x="63.91" y="195.45" width="3.17" height="4.20" fill="#e2430a"/>
<path d="M70.24 195.45h4.17v3.20h-1.00v1.00h-3.17z" fill="#fa7b1f"/>
<path d="M73.40 195.45h4.17v3.20h-1.00v1.00h-3.17z" fill="#37a8fa"/>
<path d="M76.57 195.45h4.17v3.20h-1.00v1.00h-3.17z" fill="#4669e0"/>
<rect x="79.73" y="195.45" width="3.17" height="4.20" fill="#4771e9"/>
<rect x="105.05" y="195.45" width="3.17" height="4.20" fill="#1ecbda"/>
<path d="M63.91 198.65h4.17v3.20h-1.00v1.00h-3.17z" fill="#f36315"/>
<path d="M67.07 198.65h4.17v3.20h-1.00v1.00h-3.17z" fill="#fa7b1f"/>
<path d="M70.24 198.65h4.17v3.20h-1.00v1.00h-3.17z" fill="#fe9029"/>
<path d="M73.40 198.65h4.17v3.20h-1.00v1.00h-3.17z" fill="#35abf8"/>
<path d="M76.57 198.65h4.17v3.20h-1.00v1.00h-3.17z" fill="#466be3"/>
<rect x="79.73" y="198.65" width="3.17" height="4.20" fill="#476ee6"/>
<path d="M101.89 198.65h4.17v3.20h-1.00v1.00h-3.17z" fill="#ac1701"/>
<rect x="105.05" y="198.65" width="3.17" height="4.20" fill="#fc8725"/>
<rect x="54.41" y="201.85" width="3.17" height="4.20" fill="#fe932a"/>
<path d="M63.91 201.85h4.17v3.20h-1.00v1.00h-3.17z" fill="#ec530f"/>
<path d="M67.07 201.85h4.17v3.20h-1.00v1.00h-3.17z" fill="#fa7b1f"/>
<path d="M70.24 201.85h4.17v3.20h-1.00v1.00h-3.17z" fill="#f56918"/>
<path d="M73.40 201.85h4.17v3.20h-1.00v1.00h-3.17z" fill="#dde037"/>
<rect x="76.57" y="201.85" width="6.33" height="4.20" fill="#d7e535"/>
<path d="M89.23 201.85h4.17v3.20h-1.00v1.00h-3.17z" fill="#cc2b04"/>
<path d="M92.39 201.85h4.17v3.20h-1.00v1.00h-3.17z" fill="#fcb336"/>
<path d="M95.56 201.85h4.17v3.20h-1.00v1.00h-3.17z" fill="#a71401"/>
<path d="M98.72 201.85h4.17v3.20h-1.00v1.00h-3.17z" fill="#850702"/>
<path d="M101.89 201.85h4.17v3.20h-1.00v1.00h-3.17z" fill="#920b01"/>
<path d="M105.05 201.85h4.17v3.20h-1.00v1.00h-3.17z" fill="#ca2a04"/>
<rect x="108.22" y="201.85" width="3.17" height="4.20" fill="#4773eb"/>
<path d="M48.08 205.05h4.17v3.20h-1.00v1.00h-3.17z" fill="#f9781e"/>
<path d="M51.25 205.05h4.17v3.20h-1.00v1.00h-3.17z" fill="#fbb637"/>
<path d="M54.41 205.05h4.17v3.20h-1.00v1.00h-3.17z" fill="#fe932a"/>
<path d="M57.58 205.05h4.17v3.20h-1.00v1.00h-3.17z" fill="#f5c53a"/>
<path d="M60.74 205.05h4.17v3.20h-1.00v1.00h-3.17z" fill="#f46617"/>
<path d="M63.91 205.05h4.17v3.20h-1.00v1.00h-3.17z" fill="#ec530f"/>
<path d="M67.07 205.05h4.17v3.20h-1.00v1.00h-3.17z" fill="#f9781e"/>
<path d="M70.24 205.05h4.17v3.20h-1.00v1.00h-3.17z" fill="#f56918"/>
<path d="M73.40 205.05h4.17v3.20h-1.00v1.00h-3.17z" fill="#dbe236"/>
<path d="M76.57 205.05h7.33v3.20h-1.00v1.00h-6.33z" fill="#dfdf37"/>
<path d="M82.90 205.05h4.17v3.20h-1.00v1.00h-3.17z" fill="#f9751d"/>
<path d="M86.06 205.05h4.17v3.20h-1.00v1.00h-3.17z" fill="#d43305"/>
<path d="M89.23 205.05h4.17v3.20h-1.00v1.00h-3.17z" fill="#cc2b04"/>
<path d="M92.39 205.05h4.17v3.20h-1.00v1.00h-3.17z" fill="#fcb336"/>
<path d="M95.56 205.05h4.17v3.20h-1.00v1.00h-3.17z" fill="#a91601"/>
<path d="M98.72 205.05h4.17v3.20h-1.00v1.00h-3.17z" fill="#8e0a01"/>
<path d="M101.89 205.05h4.17v3.20h-1.00v1.00h-3.17z" fill="#8b0902"/>
<path d="M105.05 205.05h4.17v3.20h-1.00v1.00h-3.17z" fill="#cc2b04"/>
<rect x="108.22" y="205.05" width="3.17" height="4.20" fill="#4771e9"/>
<path d="M44.92 208.25h4.17v3.20h-1.00v1.00h-3.17z" fill="#f05b12"/>
<path d="M48.08 208.25h4.17v3.20h-1.00v1.00h-3.17z" fill="#f56918"/>
<path d="M51.25 208.25h4.17v3.20h-1.00v1.00h-3.17z" fill="#b9f635"/>
<path d="M54.41 208.25h4.17v3.20h-1.00v1.00h-3.17z" fill="#f6c33a"/>
<path d="M57.58 208.25h4.17v3.20h-1.00v1.00h-3.17z" fill="#fcb336"/>
<path d="M60.74 208.25h4.17v3.20h-1.00v1.00h-3.17z" fill="#f46617"/>
<path d="M63.91 208.25h4.17v3.20h-1.00v1.00h-3.17z" fill="#bef434"/>
<path d="M67.07 208.25h4.17v3.20h-1.00v1.00h-3.17z" fill="#bcf534"/>
<path d="M70.24 208.25h4.17v3.20h-1.00v1.00h-3.17z" fill="#b7f735"/>
<path d="M73.40 208.25h4.17v3.20h-1.00v1.00h-3.17z" fill="#fbb838"/>
<path d="M76.57 208.25h7.33v3.20h-1.00v1.00h-6.33z" fill="#fd8d27"/>
<path d="M82.90 208.25h4.17v3.20h-1.00v1.00h-3.17z" fill="#d83706"/>
<path d="M86.06 208.25h4.17v3.20h-1.00v1.00h-3.17z" fill="#df3f08"/>
<path d="M89.23 208.25h4.17v3.20h-1.00v1.00h-3.17z" fill="#e84b0c"/>
<path d="M92.39 208.25h4.17v3.20h-1.00v1.00h-3.17z" fill="#fcb336"/>
<path d="M95.56 208.25h4.17v3.20h-1.00v1.00h-3.17z" fill="#cc2b04"/>
<path d="M98.72 208.25h7.33v3.20h-1.00v1.00h-6.33z" fill="#ac1701"/>
<path d="M105.05 208.25h4.17v3.20h-1.00v1.00h-3.17z" fill="#f36315"/>
<rect x="108.22" y="208.25" width="3.17" height="4.20" fill="#4773eb"/>
<rect x="44.92" y="211.45" width="4.17" height="3.20" fill="#f66c19"/>
<path d="M48.08 211.45h4.17v3.20h-1.00v1.00h-3.17z" fill="#f46617"/>
<path d="M51.25 211.45h4.17v3.20h-1.00v1.00h-3.17z" fill="#dfdf37"/>
<path d="M54.41 211.45h4.17v3.20h-1.00v1.00h-3.17z" fill="#f8be39"/>
<path d="M57.58 211.45h4.17v3.20h-1.00v1.00h-3.17z" fill="#fe9b2d"/>
<path d="M60.74 211.45h4.17v3.20h-1.00v1.00h-3.17z" fill="#f6c33a"/>
<path d="M63.91 211.45h4.17v3.20h-1.00v1.00h-3.17z" fill="#bcf534"/>
<path d="M67.07 211.45h4.17v3.20h-1.00v1.00h-3.17z" fill="#69fd66"/>
<path d="M70.24 211.45h4.17v3.20h-1.00v1.00h-3.17z" fill="#a7fc3a"/>
<path d="M73.40 211.45h4.17v3.20h-1.00v1.00h-3.17z" fill="#d9e436"/>
<path d="M76.57 211.45h4.17v3.20h-1.00v1.00h-3.17z" fill="#f15d13"/>
<path d="M79.73 211.45h4.17v3.20h-1.00v1.00h-3.17z" fill="#f46617"/>
<path d="M82.90 211.45h4.17v3.20h-1.00v1.00h-3.17z" fill="#e14109"/>
<path d="M86.06 211.45h4.17v3.20h-1.00v1.00h-3.17z" fill="#df3f08"/>
<path d="M89.23 211.45h4.17v3.20h-1.00v1.00h-3.17z" fill="#d63506"/>
<path d="M92.39 211.45h4.17v3.20h-1.00v1.00h-3.17z" fill="#ea4e0d"/>
<path d="M95.56 211.45h4.17v3.20h-1.00v1.00h-3.17z" fill="#e14109"/>
<path d="M98.72 211.45h4.17v3.20h-1.00v1.00h-3.17z" fill="#ce2d04"/>
<path d="M101.89 211.45h4.17v3.20h-1.00v1.00h-3.17z" fill="#cc2b04"/>
<path d="M105.05 211.45h4.17v3.20h-1.00v1.00h-3.17z" fill="#a4fc3c"/>
<path d="M108.22 211.45h4.17v3.20h-1.00v1.00h-3.17z" fill="#2aefa1"/>
<path d="M111.38 211.45h4.17v3.20h-1.00v1.00h-3.17z" fill="#4559cb"/>
<rect x="114.55" y="211.45" width="9.50" height="4.20" fill="#30123b"/>
<path d="M48.08 214.65h4.17v3.20h-1.00v1.00h-3.17z" fill="#f9781e"/>
<path d="M51.25 214.65h4.17v3.20h-1.00v1.00h-3.17z" fill="#fe932a"/>
<path d="M54.41 214.65h4.17v3.20h-1.00v1.00h-3.17z" fill="#f8be39"/>
<path d="M57.58 214.65h4.17v3.20h-1.00v1.00h-3.17z" fill="#fe9b2d"/>
<path d="M60.74 214.65h7.33v3.20h-1.00v1.00h-6.33z" fill="#f1cb3a"/>
<path d="M67.07 214.65h4.17v3.20h-1.00v1.00h-3.17z" fill="#dde037"/>
<path d="M70.24 214.65h4.17v3.20h-1.00v1.00h-3.17z" fill="#acfb38"/>
<path d="M73.40 214.65h4.17v3.20h-1.00v1.00h-3.17z" fill="#f5c53a"/>
<path d="M76.57 214.65h4.17v3.20h-1.00v1.00h-3.17z" fill="#dfdf37"/>
<path d="M79.73 214.65h4.17v3.20h-1.00v1.00h-3.17z" fill="#e1dd37"/>
<path d="M82.90 214.65h4.17v3.20h-1.00v1.00h-3.17z" fill="#f46617"/>
<path d="M86.06 214.65h4.17v3.20h-1.00v1.00h-3.17z" fill="#e14109"/>
<path d="M89.23 214.65h4.17v3.20h-1.00v1.00h-3.17z" fill="#f36315"/>
<path d="M92.39 214.65h4.17v3.20h-1.00v1.00h-3.17z" fill="#f46617"/>
<path d="M95.56 214.65h7.33v3.20h-1.00v1.00h-6.33z" fill="#fd8a26"/>
<path d="M101.89 214.65h4.17v3.20h-1.00v1.00h-3.17z" fill="#bef434"/>
<path d="M105.05 214.65h4.17v3.20h-1.00v1.00h-3.17z" fill="#b4f836"/>
<path d="M108.22 214.65h4.17v3.20h-1.00v1.00h-3.17z" fill="#a9fb39"/>
<path d="M111.38 214.65h4.17v3.20h-1.00v1.00h-3.17z" fill="#2ff19b"/>
<path d="M114.55 214.65h4.17v3.20h-1.00v1.00h-3.17z" fill="#23c3e4"/>
<path d="M117.71 214.65h4.17v3.20h-1.00v1.00h-3.17z" fill="#1ae4b6"/>
<path d="M120.88 214.65h4.17v3.20h-1.00v1.00h-3.17z" fill="#4196ff"/>
<rect x="124.04" y="214.65" width="6.33" height="4.20" fill="#30123b"/>
<path d="M48.08 217.85h4.17v3.20h-1.00v1.00h-3.17z" fill="#e2430a"/>
<path d="M51.25 217.85h4.17v3.20h-1.00v1.00h-3.17z" fill="#ec530f"/>
<path d="M54.41 217.85h4.17v3.20h-1.00v1.00h-3.17z" fill="#fe9b2d"/>
<path d="M57.58 217.85h4.17v3.20h-1.00v1.00h-3.17z" fill="#b9f635"/>
<path d="M60.74 217.85h4.17v3.20h-1.00v1.00h-3.17z" fill="#bcf534"/>
<path d="M63.91 217.85h4.17v3.20h-1.00v1.00h-3.17z" fill="#fb7e21"/>
<path d="M67.07 217.85h4.17v3.20h-1.00v1.00h-3.17z" fill="#fe932a"/>
<path d="M70.24 217.85h4.17v3.20h-1.00v1.00h-3.17z" fill="#f4c73a"/>
<path d="M73.40 217.85h4.17v3.20h-1.00v1.00h-3.17z" fill="#d9e436"/>
<path d="M76.57 217.85h4.17v3.20h-1.00v1.00h-3.17z" fill="#dbe236"/>
<path d="M79.73 217.85h4.17v3.20h-1.00v1.00h-3.17z" fill="#f2c93a"/>
<path d="M82.90 217.85h4.17v3.20h-1.00v1.00h-3.17z" fill="#f9751d"/>
<path d="M86.06 217.85h4.17v3.20h-1.00v1.00h-3.17z" fill="#dbe236"/>
<path d="M89.23 217.85h4.17v3.20h-1.00v1.00h-3.17z" fill="#38f491"/>
<path d="M92.39 217.85h4.17v3.20h-1.00v1.00h-3.17z" fill="#69fd66"/>
<path d="M95.56 217.85h4.17v3.20h-1.00v1.00h-3.17z" fill="#33adf7"/>
<path d="M98.72 217.85h4.17v3.20h-1.00v1.00h-3.17z" fill="#b7f735"/>
<path d="M101.89 217.85h4.17v3.20h-1.00v1.00h-3.17z" fill="#dde037"/>
<path d="M105.05 217.85h4.17v3.20h-1.00v1.00h-3.17z" fill="#f9781e"/>
<path d="M108.22 217.85h4.17v3.20h-1.00v1.00h-3.17z" fill="#dfdf37"/>
<path d="M111.38 217.85h4.17v3.20h-1.00v1.00h-3.17z" fill="#65fd69"/>
<path d="M114.55 217.85h4.17v3.20h-1.00v1.00h-3.17z" fill="#affa37"/>
<path d="M117.71 217.85h4.17v3.20h-1.00v1.00h-3.17z" fill="#9cfe40"/>
<path d="M120.88 217.85h4.17v3.20h-1.00v1.00h-3.17z" fill="#55fa76"/>
<path d="M124.04 217.85h4.17v3.20h-1.00v1.00h-3.17z" fill="#4666dd"/>
<rect x="127.21" y="217.85" width="6.33" height="4.20" fill="#30123b"/>
<path d="M48.08 221.05h4.17v3.20h-1.00v1.00h-3.17z" fill="#f56918"/>
<path d="M51.25 221.05h4.17v3.20h-1.00v1.00h-3.17z" fill="#fe9b2d"/>
<path d="M54.41 221.05h4.17v3.20h-1.00v1.00h-3.17z" fill="#fcb336"/>
<path d="M57.58 221.05h4.17v3.20h-1.00v1.00h-3.17z" fill="#fe9029"/>
<path d="M60.74 221.05h4.17v3.20h-1.00v1.00h-3.17z" fill="#fa7b1f"/>
<path d="M63.91 221.05h4.17v3.20h-1.00v1.00h-3.17z" fill="#b9f635"/>
<path d="M67.07 221.05h4.17v3.20h-1.00v1.00h-3.17z" fill="#fbb838"/>
<path d="M70.24 221.05h4.17v3.20h-1.00v1.00h-3.17z" fill="#f5c53a"/>
<path d="M73.40 221.05h4.17v3.20h-1.00v1.00h-3.17z" fill="#a7fc3a"/>
<path d="M76.57 221.05h4.17v3.20h-1.00v1.00h-3.17z" fill="#b1f936"/>
<path d="M79.73 221.05h7.33v3.20h-1.00v1.00h-6.33z" fill="#affa37"/>
<path d="M86.06 221.05h4.17v3.20h-1.00v1.00h-3.17z" fill="#bef434"/>
<path d="M89.23 221.05h4.17v3.20h-1.00v1.00h-3.17z" fill="#fe9029"/>
<path d="M92.39 221.05h4.17v3.20h-1.00v1.00h-3.17z" fill="#f56918"/>
<path d="M95.56 221.05h4.17v3.20h-1.00v1.00h-3.17z" fill="#fa7b1f"/>
<path d="M98.72 221.05h4.17v3.20h-1.00v1.00h-3.17z" fill="#f36315"/>
<path d="M101.89 221.05h4.17v3.20h-1.00v1.00h-3.17z" fill="#fcb336"/>
<path d="M105.05 221.05h4.17v3.20h-1.00v1.00h-3.17z" fill="#fd8a26"/>
<path d="M108.22 221.05h4.17v3.20h-1.00v1.00h-3.17z" fill="#eb500e"/>
<path d="M111.38 221.05h4.17v3.20h-1.00v1.00h-3.17z" fill="#acfb38"/>
<path d="M114.55 221.05h4.17v3.20h-1.00v1.00h-3.17z" fill="#fa7b1f"/>
<path d="M117.71 221.05h4.17v3.20h-1.00v1.00h-3.17z" fill="#d9e436"/>
<path d="M120.88 221.05h4.17v3.20h-1.00v1.00h-3.17z" fill="#59fb73"/>
<path d="M124.04 221.05h4.17v3.20h-1.00v1.00h-3.17z" fill="#3aa3fc"/>
<path d="M127.21 221.05h4.17v3.20h-1.00v1.00h-3.17z" fill="#448ffe"/>
<rect x="130.37" y="221.05" width="3.17" height="3.20" fill="#4391fe"/>
<path d="M38.59 224.25h4.17v3.20h-1.00v1.00h-3.17z" fill="#df3f08"/>
<path d="M41.75 224.25h4.17v3.20h-1.00v1.00h-3.17z" fill="#d43305"/>
<path d="M44.92 224.25h4.17v3.20h-1.00v1.00h-3.17z" fill="#f9751d"/>
<path d="M48.08 224.25h4.17v3.20h-1.00v1.00h-3.17z" fill="#f46617"/>
<path d="M51.25 224.25h4.17v3.20h-1.00v1.00h-3.17z" fill="#ea4e0d"/>
<path d="M54.41 224.25h4.17v3.20h-1.00v1.00h-3.17z" fill="#f56918"/>
<path d="M57.58 224.25h4.17v3.20h-1.00v1.00h-3.17z" fill="#f9751d"/>
<path d="M60.74 224.25h4.17v3.20h-1.00v1.00h-3.17z" fill="#ec530f"/>
<path d="M63.91 224.25h4.17v3.20h-1.00v1.00h-3.17z" fill="#fa7b1f"/>
<path d="M67.07 224.25h4.17v3.20h-1.00v1.00h-3.17z" fill="#bef434"/>
<path d="M70.24 224.25h4.17v3.20h-1.00v1.00h-3.17z" fill="#b1f936"/>
<path d="M73.40 224.25h4.17v3.20h-1.00v1.00h-3.17z" fill="#f2c93a"/>
<path d="M76.57 224.25h4.17v3.20h-1.00v1.00h-3.17z" fill="#f1cb3a"/>
<path d="M79.73 224.25h4.17v3.20h-1.00v1.00h-3.17z" fill="#f5c53a"/>
<path d="M82.90 224.25h4.17v3.20h-1.00v1.00h-3.17z" fill="#faba39"/>
<path d="M86.06 224.25h7.33v3.20h-1.00v1.00h-6.33z" fill="#e84b0c"/>
<path d="M92.39 224.25h4.17v3.20h-1.00v1.00h-3.17z" fill="#fd8d27"/>
<path d="M95.56 224.25h4.17v3.20h-1.00v1.00h-3.17z" fill="#ea4e0d"/>
<path d="M98.72 224.25h4.17v3.20h-1.00v1.00h-3.17z" fill="#ec530f"/>
<path d="M101.89 224.25h4.17v3.20h-1.00v1.00h-3.17z" fill="#eb500e"/>
<path d="M105.05 224.25h4.17v3.20h-1.00v1.00h-3.17z" fill="#d83706"/>
<path d="M108.22 224.25h4.17v3.20h-1.00v1.00h-3.17z" fill="#f6c33a"/>
<path d="M111.38 224.25h4.17v3.20h-1.00v1.00h-3.17z" fill="#35f394"/>
<path d="M114.55 224.25h4.17v3.20h-1.00v1.00h-3.17z" fill="#99fe42"/>
<path d="M117.71 224.25h4.17v3.20h-1.00v1.00h-3.17z" fill="#2ff19b"/>
<path d="M120.88 224.25h4.17v3.20h-1.00v1.00h-3.17z" fill="#27eea4"/>
<path d="M124.04 224.25h4.17v3.20h-1.00v1.00h-3.17z" fill="#3aa3fc"/>
<rect x="127.21" y="224.25" width="3.17" height="3.20" fill="#4294ff"/>
<path d="M35.42 227.45h4.17v3.20h-1.00v1.00h-3.17z" fill="#fcb136"/>
<path d="M38.59 227.45h4.17v3.20h-1.00v1.00h-3.17z" fill="#c12302"/>
<path d="M41.75 227.45h4.17v3.20h-1.00v1.00h-3.17z" fill="#ce2d04"/>
<path d="M44.92 227.45h4.17v3.20h-1.00v1.00h-3.17z" fill="#d43305"/>
<path d="M48.08 227.45h4.17v3.20h-1.00v1.00h-3.17z" fill="#ce2d04"/>
<path d="M51.25 227.45h4.17v3.20h-1.00v1.00h-3.17z" fill="#d63506"/>
<path d="M54.41 227.45h4.17v3.20h-1.00v1.00h-3.17z" fill="#f36315"/>
<path d="M57.58 227.45h4.17v3.20h-1.00v1.00h-3.17z" fill="#eb500e"/>
<path d="M60.74 227.45h4.17v3.20h-1.00v1.00h-3.17z" fill="#ec530f"/>
<path d="M63.91 227.45h4.17v3.20h-1.00v1.00h-3.17z" fill="#fd8d27"/>
<path d="M67.07 227.45h4.17v3.20h-1.00v1.00h-3.17z" fill="#f4c73a"/>
<path d="M70.24 227.45h4.17v3.20h-1.00v1.00h-3.17z" fill="#f9781e"/>
<path d="M73.40 227.45h4.17v3.20h-1.00v1.00h-3.17z" fill="#fe932a"/>
<path d="M76.57 227.45h4.17v3.20h-1.00v1.00h-3.17z" fill="#fd8d27"/>
<path d="M79.73 227.45h4.17v3.20h-1.00v1.00h-3.17z" fill="#fd8a26"/>
<path d="M82.90 227.45h4.17v3.20h-1.00v1.00h-3.17z" fill="#eb500e"/>
<path d="M86.06 227.45h4.17v3.20h-1.00v1.00h-3.17z" fill="#d83706"/>
<path d="M89.23 227.45h4.17v3.20h-1.00v1.00h-3.17z" fill="#e14109"/>
<path d="M92.39 227.45h4.17v3.20h-1.00v1.00h-3.17z" fill="#c52603"/>
<path d="M95.56 227.45h4.17v3.20h-1.00v1.00h-3.17z" fill="#ea4e0d"/>
<path d="M98.72 227.45h4.17v3.20h-1.00v1.00h-3.17z" fill="#eb500e"/>
<path d="M101.89 227.45h4.17v3.20h-1.00v1.00h-3.17z" fill="#f05b12"/>
<path d="M105.05 227.45h4.17v3.20h-1.00v1.00h-3.17z" fill="#fd8d27"/>
<path d="M108.22 227.45h4.17v3.20h-1.00v1.00h-3.17z" fill="#1fc9dd"/>
<path d="M111.38 227.45h4.17v3.20h-1.00v1.00h-3.17z" fill="#20c7df"/>
<path d="M114.55 227.45h4.17v3.20h-1.00v1.00h-3.17z" fill="#3d9efe"/>
<rect x="117.71" y="227.45" width="4.17" height="3.20" fill="#38a5fb"/>
<rect x="120.88" y="227.45" width="4.17" height="3.20" fill="#19e3b9"/>
<rect x="124.04" y="227.45" width="3.17" height="3.20" fill="#22c5e2"/>
<path d="M35.42 230.65h4.17v3.20h-1.00v1.00h-3.17z" fill="#d43305"/>
<path d="M38.59 230.65h4.17v3.20h-1.00v1.00h-3.17z" fill="#af1801"/>
<path d="M41.75 230.65h4.17v3.20h-1.00v1.00h-3.17z" fill="#ac1701"/>
<path d="M44.92 230.65h4.17v3.20h-1.00v1.00h-3.17z" fill="#c32503"/>
<path d="M48.08 230.65h4.17v3.20h-1.00v1.00h-3.17z" fill="#d43305"/>
<path d="M51.25 230.65h4.17v3.20h-1.00v1.00h-3.17z" fill="#df3f08"/>
<path d="M54.41 230.65h4.17v3.20h-1.00v1.00h-3.17z" fill="#d63506"/>
<path d="M57.58 230.65h4.17v3.20h-1.00v1.00h-3.17z" fill="#ea4e0d"/>
<path d="M60.74 230.65h4.17v3.20h-1.00v1.00h-3.17z" fill="#f05b12"/>
<path d="M63.91 230.65h4.17v3.20h-1.00v1.00h-3.17z" fill="#f56918"/>
<path d="M67.07 230.65h4.17v3.20h-1.00v1.00h-3.17z" fill="#ed5510"/>
<path d="M70.24 230.65h4.17v3.20h-1.00v1.00h-3.17z" fill="#fe9029"/>
<path d="M73.40 230.65h4.17v3.20h-1.00v1.00h-3.17z" fill="#ec530f"/>
<path d="M76.57 230.65h4.17v3.20h-1.00v1.00h-3.17z" fill="#ea4e0d"/>
<path d="M79.73 230.65h4.17v3.20h-1.00v1.00h-3.17z" fill="#f46617"/>
<path d="M82.90 230.65h4.17v3.20h-1.00v1.00h-3.17z" fill="#e14109"/>
<path d="M86.06 230.65h4.17v3.20h-1.00v1.00h-3.17z" fill="#e84b0c"/>
<path d="M89.23 230.65h4.17v3.20h-1.00v1.00h-3.17z" fill="#c32503"/>
<path d="M92.39 230.65h4.17v3.20h-1.00v1.00h-3.17z" fill="#eb500e"/>
<path d="M95.56 230.65h4.17v3.20h-1.00v1.00h-3.17z" fill="#e84b0c"/>
<path d="M98.72 230.65h4.17v3.20h-1.00v1.00h-3.17z" fill="#f46617"/>
<path d="M101.89 230.65h4.17v3.20h-1.00v1.00h-3.17z" fill="#fbb637"/>
<path d="M105.05 230.65h4.17v3.20h-1.00v1.00h-3.17z" fill="#b4f836"/>
<path d="M108.22 230.65h4.17v3.20h-1.00v1.00h-3.17z" fill="#9cfe40"/>
<path d="M111.38 230.65h4.17v3.20h-1.00v1.00h-3.17z" fill="#4249b1"/>
<rect x="114.55" y="230.65" width="3.17" height="4.20" fill="#466be3"/>
<path d="M35.42 233.85h4.17v3.20h-1.00v1.00h-3.17z" fill="#c52603"/>
<path d="M38.59 233.85h4.17v3.20h-1.00v1.00h-3.17z" fill="#f36315"/>
<path d="M41.75 233.85h4.17v3.20h-1.00v1.00h-3.17z" fill="#b91e02"/>
<path d="M44.92 233.85h4.17v3.20h-1.00v1.00h-3.17z" fill="#a71401"/>
<path d="M48.08 233.85h4.17v3.20h-1.00v1.00h-3.17z" fill="#b71d02"/>
<path d="M51.25 233.85h4.17v3.20h-1.00v1.00h-3.17z" fill="#b91e02"/>
<path d="M54.41 233.85h4.17v3.20h-1.00v1.00h-3.17z" fill="#e7490c"/>
<path d="M57.58 233.85h4.17v3.20h-1.00v1.00h-3.17z" fill="#ea4e0d"/>
<path d="M60.74 233.85h4.17v3.20h-1.00v1.00h-3.17z" fill="#f8be39"/>
<path d="M63.91 233.85h4.17v3.20h-1.00v1.00h-3.17z" fill="#fd8d27"/>
<path d="M67.07 233.85h4.17v3.20h-1.00v1.00h-3.17z" fill="#fcb336"/>
<path d="M70.24 233.85h4.17v3.20h-1.00v1.00h-3.17z" fill="#fe9029"/>
<path d="M73.40 233.85h4.17v3.20h-1.00v1.00h-3.17z" fill="#ea4e0d"/>
<path d="M76.57 233.85h4.17v3.20h-1.00v1.00h-3.17z" fill="#df3f08"/>
<path d="M79.73 233.85h4.17v3.20h-1.00v1.00h-3.17z" fill="#e14109"/>
<path d="M82.90 233.85h4.17v3.20h-1.00v1.00h-3.17z" fill="#d63506"/>
<path d="M86.06 233.85h4.17v3.20h-1.00v1.00h-3.17z" fill="#f9751d"/>
<path d="M89.23 233.85h4.17v3.20h-1.00v1.00h-3.17z" fill="#eb500e"/>
<path d="M92.39 233.85h4.17v3.20h-1.00v1.00h-3.17z" fill="#f36315"/>
<path d="M95.56 233.85h4.17v3.20h-1.00v1.00h-3.17z" fill="#f56918"/>
<path d="M98.72 233.85h7.33v3.20h-1.00v1.00h-6.33z" fill="#f9781e"/>
<path d="M105.05 233.85h4.17v3.20h-1.00v1.00h-3.17z" fill="#f1cb3a"/>
<path d="M108.22 233.85h4.17v3.20h-1.00v1.00h-3.17z" fill="#1de7b2"/>
<path d="M111.38 233.85h4.17v3.20h-1.00v1.00h-3.17z" fill="#4666dd"/>
<rect x="114.55" y="233.85" width="3.17" height="4.20" fill="#4669e0"/>
<path d="M35.42 237.05h4.17v3.20h-1.00v1.00h-3.17z" fill="#f36315"/>
<path d="M38.59 237.05h4.17v3.20h-1.00v1.00h-3.17z" fill="#c32503"/>
<path d="M41.75 237.05h4.17v3.20h-1.00v1.00h-3.17z" fill="#a91601"/>
<path d="M44.92 237.05h7.33v3.20h-1.00v1.00h-6.33z" fill="#b71d02"/>
<path d="M51.25 237.05h4.17v3.20h-1.00v1.00h-3.17z" fill="#c32503"/>
<path d="M54.41 237.05h4.17v3.20h-1.00v1.00h-3.17z" fill="#e84b0c"/>
<path d="M57.58 237.05h4.17v3.20h-1.00v1.00h-3.17z" fill="#c52603"/>
<path d="M60.74 237.05h4.17v3.20h-1.00v1.00h-3.17z" fill="#e84b0c"/>
<path d="M63.91 237.05h4.17v3.20h-1.00v1.00h-3.17z" fill="#faba39"/>
<path d="M67.07 237.05h4.17v3.20h-1.00v1.00h-3.17z" fill="#fe932a"/>
<path d="M70.24 237.05h4.17v3.20h-1.00v1.00h-3.17z" fill="#fe9029"/>
<path d="M73.40 237.05h4.17v3.20h-1.00v1.00h-3.17z" fill="#eb500e"/>
<path d="M76.57 237.05h4.17v3.20h-1.00v1.00h-3.17z" fill="#c32503"/>
<path d="M79.73 237.05h4.17v3.20h-1.00v1.00h-3.17z" fill="#c52603"/>
<path d="M82.90 237.05h4.17v3.20h-1.00v1.00h-3.17z" fill="#d83706"/>
<path d="M86.06 237.05h4.17v3.20h-1.00v1.00h-3.17z" fill="#eb500e"/>
<path d="M89.23 237.05h4.17v3.20h-1.00v1.00h-3.17z" fill="#fa7b1f"/>
<path d="M92.39 237.05h4.17v3.20h-1.00v1.00h-3.17z" fill="#f2c93a"/>
<path d="M95.56 237.05h4.17v3.20h-1.00v1.00h-3.17z" fill="#f9bc39"/>
<path d="M98.72 237.05h4.17v3.20h-1.00v1.00h-3.17z" fill="#fe932a"/>
<path d="M101.89 237.05h4.17v3.20h-1.00v1.00h-3.17z" fill="#f4c73a"/>
<path d="M105.05 237.05h4.17v3.20h-1.00v1.00h-3.17z" fill="#a1fd3d"/>
<path d="M108.22 237.05h4.17v3.20h-1.00v1.00h-3.17z" fill="#38f491"/>
<rect x="111.38" y="237.05" width="4.17" height="3.20" fill="#4669e0"/>
<rect x="114.55" y="237.05" width="3.17" height="4.20" fill="#4666dd"/>
<rect x="35.42" y="240.25" width="4.17" height="3.20" fill="#df3f08"/>
<rect x="38.59" y="240.25" width="4.17" height="3.20" fill="#950d01"/>
<rect x="41.75" y="240.25" width="4.17" height="3.20" fill="#a91601"/>
<path d="M44.92 240.25h4.17v3.20h-1.00v1.00h-3.17z" fill="#b71d02"/>
<path d="M48.08 240.25h4.17v3.20h-1.00v1.00h-3.17z" fill="#b91e02"/>
<path d="M51.25 240.25h4.17v3.20h-1.00v1.00h-3.17z" fill="#e7490c"/>
<path d="M54.41 240.25h4.17v3.20h-1.00v1.00h-3.17z" fill="#e1dd37"/>
<path d="M57.58 240.25h4.17v3.20h-1.00v1.00h-3.17z" fill="#ec530f"/>
<path d="M60.74 240.25h4.17v3.20h-1.00v1.00h-3.17z" fill="#e84b0c"/>
<path d="M63.91 240.25h4.17v3.20h-1.00v1.00h-3.17z" fill="#f9751d"/>
<path d="M67.07 240.25h4.17v3.20h-1.00v1.00h-3.17z" fill="#fbb838"/>
<path d="M70.24 240.25h4.17v3.20h-1.00v1.00h-3.17z" fill="#f7c13a"/>
<path d="M73.40 240.25h4.17v3.20h-1.00v1.00h-3.17z" fill="#d63506"/>
<path d="M76.57 240.25h4.17v3.20h-1.00v1.00h-3.17z" fill="#e14109"/>
<path d="M79.73 240.25h4.17v3.20h-1.00v1.00h-3.17z" fill="#df3f08"/>
<path d="M82.90 240.25h4.17v3.20h-1.00v1.00h-3.17z" fill="#fd8a26"/>
<path d="M86.06 240.25h4.17v3.20h-1.00v1.00h-3.17z" fill="#f7c13a"/>
<path d="M89.23 240.25h4.17v3.20h-1.00v1.00h-3.17z" fill="#dbe236"/>
<path d="M92.39 240.25h4.17v3.20h-1.00v1.00h-3.17z" fill="#acfb38"/>
<path d="M95.56 240.25h4.17v3.20h-1.00v1.00h-3.17z" fill="#bcf534"/>
<path d="M98.72 240.25h4.17v3.20h-1.00v1.00h-3.17z" fill="#d9e436"/>
<path d="M101.89 240.25h4.17v3.20h-1.00v1.00h-3.17z" fill="#65fd69"/>
<path d="M105.05 240.25h4.17v3.20h-1.00v1.00h-3.17z" fill="#61fc6c"/>
<rect x="108.22" y="240.25" width="3.17" height="4.20" fill="#2aefa1"/>
<rect x="114.55" y="240.25" width="3.17" height="3.20" fill="#4669e0"/>
<path d="M44.92 243.45h4.17v3.20h-1.00v1.00h-3.17z" fill="#a91601"/>
<rect x="48.08" y="243.45" width="4.17" height="3.20" fill="#c12302"/>
<path d="M51.25 243.45h4.17v3.20h-1.00v1.00h-3.17z" fill="#fc8725"/>
<rect x="54.41" y="243.45" width="4.17" height="3.20" fill="#f9781e"/>
<rect x="57.58" y="243.45" width="4.17" height="3.20" fill="#fe9029"/>
<path d="M60.74 243.45h4.17v3.20h-1.00v1.00h-3.17z" fill="#f6c33a"/>
<path d="M63.91 243.45h4.17v3.20h-1.00v1.00h-3.17z" fill="#d83706"/>
<path d="M67.07 243.45h4.17v3.20h-1.00v1.00h-3.17z" fill="#f9bc39"/>
<path d="M70.24 243.45h4.17v3.20h-1.00v1.00h-3.17z" fill="#6dfe62"/>
<path d="M73.40 243.45h4.17v3.20h-1.00v1.00h-3.17z" fill="#fd8a26"/>
<path d="M76.57 243.45h4.17v3.20h-1.00v1.00h-3.17z" fill="#df3f08"/>
<path d="M79.73 243.45h4.17v3.20h-1.00v1.00h-3.17z" fill="#e14109"/>
<path d="M82.90 243.45h4.17v3.20h-1.00v1.00h-3.17z" fill="#b9f635"/>
<path d="M86.06 243.45h4.17v3.20h-1.00v1.00h-3.17z" fill="#a7fc3a"/>
<path d="M89.23 243.45h4.17v3.20h-1.00v1.00h-3.17z" fill="#9ffd3f"/>
<path d="M92.39 243.45h4.17v3.20h-1.00v1.00h-3.17z" fill="#32f298"/>
<path d="M95.56 243.45h4.17v3.20h-1.00v1.00h-3.17z" fill="#a4fc3c"/>
<path d="M98.72 243.45h4.17v3.20h-1.00v1.00h-3.17z" fill="#d9e436"/>
<path d="M101.89 243.45h4.17v3.20h-1.00v1.00h-3.17z" fill="#2cf09e"/>
<path d="M105.05 243.45h4.17v3.20h-1.00v1.00h-3.17z" fill="#37a8fa"/>
<rect x="108.22" y="243.45" width="3.17" height="3.20" fill="#4451bf"/>
<rect x="44.92" y="246.65" width="3.17" height="3.20" fill="#880802"/>
<rect x="51.25" y="246.65" width="3.17" height="3.20" fill="#e2430a"/>
<rect x="60.74" y="246.65" width="4.17" height="3.20" fill="#6dfe62"/>
<path d="M63.91 246.65h4.17v3.20h-1.00v1.00h-3.17z" fill="#f4c73a"/>
<path d="M67.07 246.65h4.17v3.20h-1.00v1.00h-3.17z" fill="#efcd3a"/>
<path d="M70.24 246.65h4.17v3.20h-1.00v1.00h-3.17z" fill="#a1fd3d"/>
<path d="M73.40 246.65h7.33v3.20h-1.00v1.00h-6.33z" fill="#a9fb39"/>
<path d="M79.73 246.65h4.17v3.20h-1.00v1.00h-3.17z" fill="#dde037"/>
<path d="M82.90 246.65h4.17v3.20h-1.00v1.00h-3.17z" fill="#a1fd3d"/>
<path d="M86.06 246.65h4.17v3.20h-1.00v1.00h-3.17z" fill="#9ffd3f"/>
<path d="M89.23 246.65h4.17v3.20h-1.00v1.00h-3.17z" fill="#9cfe40"/>
<path d="M92.39 246.65h4.17v3.20h-1.00v1.00h-3.17z" fill="#1fc9dd"/>
<path d="M95.56 246.65h4.17v3.20h-1.00v1.00h-3.17z" fill="#9ffd3f"/>
<path d="M98.72 246.65h4.17v3.20h-1.00v1.00h-3.17z" fill="#99fe42"/>
<path d="M101.89 246.65h4.17v3.20h-1.00v1.00h-3.17z" fill="#5dfc6f"/>
<rect x="105.05" y="246.65" width="3.17" height="4.20" fill="#4099ff"/>
<rect x="63.91" y="249.85" width="4.17" height="3.20" fill="#35abf8"/>
<rect x="67.07" y="249.85" width="4.17" height="3.20" fill="#b4f836"/>
<path d="M70.24 249.85h4.17v3.20h-1.00v1.00h-3.17z" fill="#b7f735"/>
<path d="M73.40 249.85h4.17v3.20h-1.00v1.00h-3.17z" fill="#65fd69"/>
<path d="M76.57 249.85h4.17v3.20h-1.00v1.00h-3.17z" fill="#61fc6c"/>
<path d="M79.73 249.85h4.17v3.20h-1.00v1.00h-3.17z" fill="#69fd66"/>
<rect x="82.90" y="249.85" width="4.17" height="3.20" fill="#20c7df"/>
<path d="M86.06 249.85h4.17v3.20h-1.00v1.00h-3.17z" fill="#22ebaa"/>
<path d="M89.23 249.85h4.17v3.20h-1.00v1.00h-3.17z" fill="#55fa76"/>
<path d="M92.39 249.85h4.17v3.20h-1.00v1.00h-3.17z" fill="#3ba0fd"/>
<path d="M95.56 249.85h4.17v3.20h-1.00v1.00h-3.17z" fill="#59fb73"/>
<path d="M98.72 249.85h4.17v3.20h-1.00v1.00h-3.17z" fill="#99fe42"/>
<path d="M101.89 249.85h4.17v3.20h-1.00v1.00h-3.17z" fill="#22c5e2"/>
<rect x="105.05" y="249.85" width="3.17" height="3.20" fill="#4456c7"/>
<rect x="70.24" y="253.05" width="4.17" height="3.20" fill="#f2c93a"/>
<rect x="73.40" y="253.05" width="4.17" height="3.20" fill="#a4fc3c"/>
<path d="M76.57 253.05h4.17v3.20h-1.00v1.00h-3.17z" fill="#5dfc6f"/>
<rect x="79.73" y="253.05" width="3.17" height="4.20" fill="#61fc6c"/>
<path d="M86.06 253.05h4.17v3.20h-1.00v1.00h-3.17z" fill="#4454c3"/>
<path d="M89.23 253.05h4.17v3.20h-1.00v1.00h-3.17z" fill="#4294ff"/>
<rect x="92.39" y="253.05" width="7.33" height="3.20" fill="#476ee6"/>
<rect x="98.72" y="253.05" width="4.17" height="3.20" fill="#4771e9"/>
<rect x="101.89" y="253.05" width="3.17" height="3.20" fill="#3e9bfe"/>
<path d="M76.57 256.25h4.17v3.20h-1.00v1.00h-3.17z" fill="#5dfc6f"/>
<path d="M79.73 256.25h4.17v3.20h-1.00v1.00h-3.17z" fill="#59fb73"/>
<path d="M82.90 256.25h4.17v3.20h-1.00v1.00h-3.17z" fill="#424bb5"/>
<path d="M86.06 256.25h4.17v3.20h-1.00v1.00h-3.17z" fill="#466be3"/>
<rect x="89.23" y="256.25" width="3.17" height="3.20" fill="#25c0e7"/>
<rect x="76.57" y="259.45" width="4.17" height="3.20" fill="#38a5fb"/>
<rect x="79.73" y="259.45" width="4.17" height="3.20" fill="#3ba0fd"/>
<rect x="82.90" y="259.45" width="4.17" height="3.20" fill="#3d9efe"/>
<rect x="86.06" y="259.45" width="3.17" height="3.20" fill="#25c0e7"/>
</g>
<path d="M46.50 172.75V263.00M62.33 172.75V263.00M78.15 172.75V263.00M93.97 172.75V263.00M109.80 172.75V263.00M125.62 172.75V263.00M30.20 177.85H141.50M30.20 193.85H141.50M30.20 209.85H141.50M30.20 225.85H141.50M30.20 241.85H141.50M30.20 257.85H141.50" stroke="#b0b0b0" stroke-width="0.67" fill="none"/>
<path d="M46.50 263.00v2.9M62.33 263.00v2.9M78.15 263.00v2.9M93.97 263.00v2.9M109.80 263.00v2.9M125.62 263.00v2.9M30.20 177.85h-2.9M30.20 193.85h-2.9M30.20 209.85h-2.9M30.20 225.85h-2.9M30.20 241.85h-2.9M30.20 257.85h-2.9" stroke="#000" stroke-width="0.67" fill="none"/>
<rect x="30.20" y="172.75" width="111.30" height="90.25" fill="none" stroke="#000" stroke-width="0.67"/>
<text transform="translate(49.60 269.60) rotate(-90)" text-anchor="end" font-size="8.33">70°W</text>
<text transform="translate(65.42 269.60) rotate(-90)" text-anchor="end" font-size="8.33">65°W</text>
<text transform="translate(81.25 269.60) rotate(-90)" text-anchor="end" font-size="8.33">60°W</text>
<text transform="translate(97.07 269.60) rotate(-90)" text-anchor="end" font-size="8.33">55°W</text>
<text transform="translate(112.90 269.60) rotate(-90)" text-anchor="end" font-size="8.33">50°W</text>
<text transform="translate(128.72 269.60) rotate(-90)" text-anchor="end" font-size="8.33">45°W</text>
<text x="25.40" y="180.95" text-anchor="end" font-size="8.33">10°N</text>
<text x="25.40" y="196.95" text-anchor="end" font-size="8.33">5°N</text>
<text x="25.40" y="212.95" text-anchor="end" font-size="8.33">0°</text>
<text x="25.40" y="228.95" text-anchor="end" font-size="8.33">5°S</text>
<text x="25.40" y="244.95" text-anchor="end" font-size="8.33">10°S</text>
<text x="25.40" y="260.95" text-anchor="end" font-size="8.33">15°S</text>
<rect x="153.20" y="172.75" width="5.10" height="90.25" fill="url(#tb)" stroke="#000" stroke-width="0.67"/>
<text x="163.80" y="259.87" font-size="8.33">0.050</text>
<text x="163.80" y="237.69" font-size="8.33">0.052</text>
<text x="163.80" y="215.52" font-size="8.33">0.054</text>
<text x="163.80" y="193.35" font-size="8.33">0.056</text>
<path d="M158.30 256.57h2.9M158.30 234.39h2.9M158.30 212.22h2.9M158.30 190.05h2.9" stroke="#000" stroke-width="0.67" fill="none"/>
<text transform="translate(196.60 217.88) rotate(-90)" text-anchor="middle" font-size="8.33">alpha (mol/mol)</text>
<rect x="251.30" y="251.43" width="11.52" height="11.57" fill="#30123b"/>
<rect x="262.52" y="256.39" width="11.52" height="6.61" fill="#3d358b"/>
<rect x="273.74" y="229.94" width="11.52" height="33.06" fill="#4559cb"/>
<rect x="284.96" y="249.78" width="11.52" height="13.22" fill="#477bf2"/>
<rect x="296.18" y="241.51" width="11.52" height="21.49" fill="#3e9bfe"/>
<rect x="307.40" y="244.82" width="11.52" height="18.18" fill="#28bceb"/>
<rect x="318.62" y="259.69" width="11.52" height="3.31" fill="#19d5cd"/>
<rect x="329.84" y="248.12" width="11.52" height="14.88" fill="#20eaac"/>
<rect x="341.06" y="231.59" width="11.52" height="31.41" fill="#46f884"/>
<rect x="352.28" y="231.59" width="11.52" height="31.41" fill="#79fe59"/>
<rect x="363.50" y="233.25" width="11.52" height="29.75" fill="#a4fc3c"/>
<rect x="374.72" y="216.72" width="11.52" height="46.28" fill="#c3f134"/>
<rect x="385.94" y="218.37" width="11.52" height="44.63" fill="#e1dd37"/>
<rect x="397.16" y="238.21" width="11.52" height="24.79" fill="#f6c33a"/>
<rect x="408.38" y="191.92" width="11.52" height="71.08" fill="#fea431"/>
<rect x="419.60" y="177.05" width="11.52" height="85.95" fill="#fb7e21"/>
<rect x="430.82" y="177.05" width="11.52" height="85.95" fill="#f05b12"/>
<rect x="442.04" y="210.11" width="11.52" height="52.89" fill="#dd3d08"/>
<rect x="453.26" y="224.98" width="11.52" height="38.02" fill="#c32503"/>
<rect x="464.48" y="253.08" width="11.22" height="9.92" fill="#a11201"/>
<text x="267.29" y="275.80" text-anchor="middle" font-size="8.33">0.050</text>
<text x="294.86" y="275.80" text-anchor="middle" font-size="8.33">0.051</text>
<text x="322.42" y="275.80" text-anchor="middle" font-size="8.33">0.052</text>
<text x="349.99" y="275.80" text-anchor="middle" font-size="8.33">0.053</text>
<text x="377.56" y="275.80" text-anchor="middle" font-size="8.33">0.054</text>
<text x="405.13" y="275.80" text-anchor="middle" font-size="8.33">0.055</text>
<text x="432.69" y="275.80" text-anchor="middle" font-size="8.33">0.056</text>
<text x="460.26" y="275.80" text-anchor="middle" font-size="8.33">0.057</text>
<text x="234.50" y="266.10" text-anchor="end" font-size="8.33">0</text>
<text x="234.50" y="233.04" text-anchor="end" font-size="8.33">20</text>
<text x="234.50" y="199.98" text-anchor="end" font-size="8.33">40</text>
<path d="M267.29 172.75V263.00M294.86 172.75V263.00M322.42 172.75V263.00M349.99 172.75V263.00M377.56 172.75V263.00M405.13 172.75V263.00M432.69 172.75V263.00M460.26 172.75V263.00M240.40 263.00H486.60M240.40 229.94H486.60M240.40 196.88H486.60" stroke="#b0b0b0" stroke-width="0.67" fill="none"/>
<path d="M267.29 263.00v2.9M294.86 263.00v2.9M322.42 263.00v2.9M349.99 263.00v2.9M377.56 263.00v2.9M405.13 263.00v2.9M432.69 263.00v2.9M460.26 263.00v2.9M240.40 263.00h-2.9M240.40 229.94h-2.9M240.40 196.88h-2.9" stroke="#000" stroke-width="0.67" fill="none"/>
<rect x="240.40" y="172.75" width="246.20" height="90.25" fill="none" stroke="#000" stroke-width="0.67"/>
<text x="363.50" y="286.90" text-anchor="middle" font-size="8.33">alpha (mol/mol)</text>
<text transform="translate(219.30 218.47) rotate(-90)" text-anchor="middle" font-size="8.33">frequency</text>
<text x="215.10" y="320.90" font-size="11.35" text-anchor="middle">f0 = 0.40266 + 0.10577 * LAI</text>
<g>
<path d="M76.57 345.60h4.17v3.20h-1.00v1.00h-3.17z" fill="#ecd13a"/>
<rect x="79.73" y="345.60" width="3.17" height="4.20" fill="#ebd339"/>
<rect x="63.91" y="348.80" width="3.17" height="4.20" fill="#fea130"/>
<path d="M70.24 348.80h4.17v3.20h-1.00v1.00h-3.17z" fill="#ca2a04"/>
<path d="M73.40 348.80h4.17v3.20h-1.00v1.00h-3.17z" fill="#bef434"/>
<path d="M76.57 348.80h4.17v3.20h-1.00v1.00h-3.17z" fill="#a4fc3c"/>
<rect x="79.73" y="348.80" width="3.17" height="4.20" fill="#ecd13a"/>
<rect x="105.05" y="348.80" width="3.17" height="4.20" fill="#71fe5f"/>
<path d="M63.91 352.00h4.17v3.20h-1.00v1.00h-3.17z" fill="#ca2a04"/>
<path d="M67.07 352.00h4.17v3.20h-1.00v1.00h-3.17z" fill="#fe9e2f"/>
<path d="M70.24 352.00h4.17v3.20h-1.00v1.00h-3.17z" fill="#cc2b04"/>
<path d="M73.40 352.00h4.17v3.20h-1.00v1.00h-3.17z" fill="#ebd339"/>
<path d="M76.57 352.00h4.17v3.20h-1.00v1.00h-3.17z" fill="#e9d539"/>
<rect x="79.73" y="352.00" width="3.17" height="4.20" fill="#ecd13a"/>
<path d="M101.89 352.00h4.17v3.20h-1.00v1.00h-3.17z" fill="#fbb637"/>
<rect x="105.05" y="352.00" width="3.17" height="4.20" fill="#eecf3a"/>
<rect x="54.41" y="355.20" width="3.17" height="4.20" fill="#e7490c"/>
<path d="M63.91 355.20h4.17v3.20h-1.00v1.00h-3.17z" fill="#950d01"/>
<path d="M67.07 355.20h4.17v3.20h-1.00v1.00h-3.17z" fill="#fe9e2f"/>
<path d="M70.24 355.20h4.17v3.20h-1.00v1.00h-3.17z" fill="#c52603"/>
<path d="M73.40 355.20h4.17v3.20h-1.00v1.00h-3.17z" fill="#e4450a"/>
<path d="M76.57 355.20h4.17v3.20h-1.00v1.00h-3.17z" fill="#fea732"/>
<rect x="79.73" y="355.20" width="3.17" height="4.20" fill="#bcf534"/>
<path d="M89.23 355.20h4.17v3.20h-1.00v1.00h-3.17z" fill="#f56918"/>
<path d="M92.39 355.20h4.17v3.20h-1.00v1.00h-3.17z" fill="#e5d938"/>
<path d="M95.56 355.20h4.17v3.20h-1.00v1.00h-3.17z" fill="#ebd339"/>
<path d="M98.72 355.20h4.17v3.20h-1.00v1.00h-3.17z" fill="#e9d539"/>
<path d="M101.89 355.20h4.17v3.20h-1.00v1.00h-3.17z" fill="#fea933"/>
<path d="M105.05 355.20h4.17v3.20h-1.00v1.00h-3.17z" fill="#fbb637"/>
<rect x="108.22" y="355.20" width="3.17" height="4.20" fill="#fea732"/>
<path d="M48.08 358.40h4.17v3.20h-1.00v1.00h-3.17z" fill="#eb500e"/>
<path d="M51.25 358.40h4.17v3.20h-1.00v1.00h-3.17z" fill="#e5470b"/>
<path d="M54.41 358.40h4.17v3.20h-1.00v1.00h-3.17z" fill="#ec530f"/>
<path d="M57.58 358.40h4.17v3.20h-1.00v1.00h-3.17z" fill="#f05b12"/>
<path d="M60.74 358.40h4.17v3.20h-1.00v1.00h-3.17z" fill="#e4450a"/>
<path d="M63.91 358.40h4.17v3.20h-1.00v1.00h-3.17z" fill="#c32503"/>
<path d="M67.07 358.40h4.17v3.20h-1.00v1.00h-3.17z" fill="#8e0a01"/>
<path d="M70.24 358.40h7.33v3.20h-1.00v1.00h-6.33z" fill="#980e01"/>
<path d="M76.57 358.40h4.17v3.20h-1.00v1.00h-3.17z" fill="#be2102"/>
<path d="M79.73 358.40h4.17v3.20h-1.00v1.00h-3.17z" fill="#f15d13"/>
<path d="M82.90 358.40h4.17v3.20h-1.00v1.00h-3.17z" fill="#ebd339"/>
<path d="M86.06 358.40h7.33v3.20h-1.00v1.00h-6.33z" fill="#fdac34"/>
<path d="M92.39 358.40h7.33v3.20h-1.00v1.00h-6.33z" fill="#efcd3a"/>
<path d="M98.72 358.40h4.17v3.20h-1.00v1.00h-3.17z" fill="#fea732"/>
<path d="M101.89 358.40h4.17v3.20h-1.00v1.00h-3.17z" fill="#e5d938"/>
<path d="M105.05 358.40h4.17v3.20h-1.00v1.00h-3.17z" fill="#f36315"/>
<rect x="108.22" y="358.40" width="3.17" height="4.20" fill="#e7d739"/>
<path d="M44.92 361.60h4.17v3.20h-1.00v1.00h-3.17z" fill="#c52603"/>
<path d="M48.08 361.60h4.17v3.20h-1.00v1.00h-3.17z" fill="#eb500e"/>
<path d="M51.25 361.60h4.17v3.20h-1.00v1.00h-3.17z" fill="#ef5811"/>
<path d="M54.41 361.60h4.17v3.20h-1.00v1.00h-3.17z" fill="#ea4e0d"/>
<path d="M57.58 361.60h4.17v3.20h-1.00v1.00h-3.17z" fill="#b71d02"/>
<path d="M60.74 361.60h4.17v3.20h-1.00v1.00h-3.17z" fill="#c52603"/>
<path d="M63.91 361.60h4.17v3.20h-1.00v1.00h-3.17z" fill="#880802"/>
<path d="M67.07 361.60h4.17v3.20h-1.00v1.00h-3.17z" fill="#b41b01"/>
<path d="M70.24 361.60h4.17v3.20h-1.00v1.00h-3.17z" fill="#b91e02"/>
<path d="M73.40 361.60h4.17v3.20h-1.00v1.00h-3.17z" fill="#b41b01"/>
<path d="M76.57 361.60h4.17v3.20h-1.00v1.00h-3.17z" fill="#c32503"/>
<path d="M79.73 361.60h7.33v3.20h-1.00v1.00h-6.33z" fill="#c52603"/>
<path d="M86.06 361.60h4.17v3.20h-1.00v1.00h-3.17z" fill="#f26014"/>
<path d="M89.23 361.60h4.17v3.20h-1.00v1.00h-3.17z" fill="#eb500e"/>
<path d="M92.39 361.60h4.17v3.20h-1.00v1.00h-3.17z" fill="#fea130"/>
<path d="M95.56 361.60h4.17v3.20h-1.00v1.00h-3.17z" fill="#fea933"/>
<path d="M98.72 361.60h4.17v3.20h-1.00v1.00h-3.17z" fill="#fea431"/>
<path d="M101.89 361.60h4.17v3.20h-1.00v1.00h-3.17z" fill="#e9d539"/>
<path d="M105.05 361.60h4.17v3.20h-1.00v1.00h-3.17z" fill="#efcd3a"/>
<rect x="108.22" y="361.60" width="3.17" height="4.20" fill="#eecf3a"/>
<rect x="44.92" y="364.80" width="4.17" height="3.20" fill="#e4450a"/>
<path d="M48.08 364.80h4.17v3.20h-1.00v1.00h-3.17z" fill="#ef5811"/>
<path d="M51.25 364.80h4.17v3.20h-1.00v1.00h-3.17z" fill="#e4450a"/>
<path d="M54.41 364.80h4.17v3.20h-1.00v1.00h-3.17z" fill="#e84b0c"/>
<path d="M57.58 364.80h4.17v3.20h-1.00v1.00h-3.17z" fill="#c12302"/>
<path d="M60.74 364.80h4.17v3.20h-1.00v1.00h-3.17z" fill="#bc2002"/>
<path d="M63.91 364.80h4.17v3.20h-1.00v1.00h-3.17z" fill="#b41b01"/>
<path d="M67.07 364.80h4.17v3.20h-1.00v1.00h-3.17z" fill="#e5470b"/>
<path d="M70.24 364.80h4.17v3.20h-1.00v1.00h-3.17z" fill="#ea4e0d"/>
<path d="M73.40 364.80h4.17v3.20h-1.00v1.00h-3.17z" fill="#980e01"/>
<path d="M76.57 364.80h4.17v3.20h-1.00v1.00h-3.17z" fill="#ca2a04"/>
<path d="M79.73 364.80h4.17v3.20h-1.00v1.00h-3.17z" fill="#c82803"/>
<path d="M82.90 364.80h4.17v3.20h-1.00v1.00h-3.17z" fill="#c52603"/>
<path d="M86.06 364.80h4.17v3.20h-1.00v1.00h-3.17z" fill="#ca2a04"/>
<path d="M89.23 364.80h4.17v3.20h-1.00v1.00h-3.17z" fill="#920b01"/>
<path d="M92.39 364.80h4.17v3.20h-1.00v1.00h-3.17z" fill="#c52603"/>
<path d="M95.56 364.80h4.17v3.20h-1.00v1.00h-3.17z" fill="#e84b0c"/>
<path d="M98.72 364.80h4.17v3.20h-1.00v1.00h-3.17z" fill="#f36315"/>
<path d="M101.89 364.80h4.17v3.20h-1.00v1.00h-3.17z" fill="#e3db38"/>
<path d="M105.05 364.80h4.17v3.20h-1.00v1.00h-3.17z" fill="#a7fc3a"/>
<path d="M108.22 364.80h4.17v3.20h-1.00v1.00h-3.17z" fill="#e1dd37"/>
<path d="M111.38 364.80h7.33v3.20h-1.00v1.00h-6.33z" fill="#fcb136"/>
<path d="M117.71 364.80h4.17v3.20h-1.00v1.00h-3.17z" fill="#5dfc6f"/>
<rect x="120.88" y="364.80" width="3.17" height="4.20" fill="#1ce6b4"/>
<path d="M48.08 368.00h4.17v3.20h-1.00v1.00h-3.17z" fill="#e7490c"/>
<path d="M51.25 368.00h4.17v3.20h-1.00v1.00h-3.17z" fill="#e4450a"/>
<path d="M54.41 368.00h4.17v3.20h-1.00v1.00h-3.17z" fill="#e84b0c"/>
<path d="M57.58 368.00h4.17v3.20h-1.00v1.00h-3.17z" fill="#e2430a"/>
<path d="M60.74 368.00h4.17v3.20h-1.00v1.00h-3.17z" fill="#c32503"/>
<path d="M63.91 368.00h4.17v3.20h-1.00v1.00h-3.17z" fill="#950d01"/>
<path d="M67.07 368.00h4.17v3.20h-1.00v1.00h-3.17z" fill="#8b0902"/>
<path d="M70.24 368.00h4.17v3.20h-1.00v1.00h-3.17z" fill="#c32503"/>
<path d="M73.40 368.00h4.17v3.20h-1.00v1.00h-3.17z" fill="#e84b0c"/>
<path d="M76.57 368.00h4.17v3.20h-1.00v1.00h-3.17z" fill="#eb500e"/>
<path d="M79.73 368.00h4.17v3.20h-1.00v1.00h-3.17z" fill="#79fe59"/>
<path d="M82.90 368.00h7.33v3.20h-1.00v1.00h-6.33z" fill="#c82803"/>
<path d="M89.23 368.00h4.17v3.20h-1.00v1.00h-3.17z" fill="#cc2b04"/>
<path d="M92.39 368.00h4.17v3.20h-1.00v1.00h-3.17z" fill="#ca2a04"/>
<path d="M95.56 368.00h4.17v3.20h-1.00v1.00h-3.17z" fill="#cc2b04"/>
<path d="M98.72 368.00h4.17v3.20h-1.00v1.00h-3.17z" fill="#a1fd3d"/>
<path d="M101.89 368.00h4.17v3.20h-1.00v1.00h-3.17z" fill="#2aefa1"/>
<path d="M105.05 368.00h4.17v3.20h-1.00v1.00h-3.17z" fill="#affa37"/>
<path d="M108.22 368.00h4.17v3.20h-1.00v1.00h-3.17z" fill="#eecf3a"/>
<path d="M111.38 368.00h4.17v3.20h-1.00v1.00h-3.17z" fill="#fea431"/>
<path d="M114.55 368.00h4.17v3.20h-1.00v1.00h-3.17z" fill="#e7d739"/>
<path d="M117.71 368.00h4.17v3.20h-1.00v1.00h-3.17z" fill="#22ebaa"/>
<path d="M120.88 368.00h4.17v3.20h-1.00v1.00h-3.17z" fill="#1ae4b6"/>
<path d="M124.04 368.00h4.17v3.20h-1.00v1.00h-3.17z" fill="#65fd69"/>
<rect x="127.21" y="368.00" width="3.17" height="4.20" fill="#52fa7a"/>
<path d="M48.08 371.20h4.17v3.20h-1.00v1.00h-3.17z" fill="#ec530f"/>
<path d="M51.25 371.20h4.17v3.20h-1.00v1.00h-3.17z" fill="#f26014"/>
<path d="M54.41 371.20h4.17v3.20h-1.00v1.00h-3.17z" fill="#980e01"/>
<path d="M57.58 371.20h4.17v3.20h-1.00v1.00h-3.17z" fill="#c12302"/>
<path d="M60.74 371.20h4.17v3.20h-1.00v1.00h-3.17z" fill="#b71d02"/>
<path d="M63.91 371.20h4.17v3.20h-1.00v1.00h-3.17z" fill="#880802"/>
<path d="M67.07 371.20h4.17v3.20h-1.00v1.00h-3.17z" fill="#8e0a01"/>
<path d="M70.24 371.20h4.17v3.20h-1.00v1.00h-3.17z" fill="#c12302"/>
<path d="M73.40 371.20h4.17v3.20h-1.00v1.00h-3.17z" fill="#fdae35"/>
<path d="M76.57 371.20h4.17v3.20h-1.00v1.00h-3.17z" fill="#f56918"/>
<path d="M79.73 371.20h7.33v3.20h-1.00v1.00h-6.33z" fill="#f66c19"/>
<path d="M86.06 371.20h4.17v3.20h-1.00v1.00h-3.17z" fill="#bcf534"/>
<path d="M89.23 371.20h4.17v3.20h-1.00v1.00h-3.17z" fill="#27eea4"/>
<path d="M92.39 371.20h4.17v3.20h-1.00v1.00h-3.17z" fill="#25eca7"/>
<path d="M95.56 371.20h4.17v3.20h-1.00v1.00h-3.17z" fill="#4451bf"/>
<path d="M98.72 371.20h4.17v3.20h-1.00v1.00h-3.17z" fill="#9ffd3f"/>
<path d="M101.89 371.20h4.17v3.20h-1.00v1.00h-3.17z" fill="#6dfe62"/>
<path d="M105.05 371.20h4.17v3.20h-1.00v1.00h-3.17z" fill="#a9fb39"/>
<path d="M108.22 371.20h4.17v3.20h-1.00v1.00h-3.17z" fill="#c1f334"/>
<path d="M111.38 371.20h4.17v3.20h-1.00v1.00h-3.17z" fill="#fbb637"/>
<path d="M114.55 371.20h4.17v3.20h-1.00v1.00h-3.17z" fill="#ca2a04"/>
<path d="M117.71 371.20h4.17v3.20h-1.00v1.00h-3.17z" fill="#e3db38"/>
<path d="M120.88 371.20h4.17v3.20h-1.00v1.00h-3.17z" fill="#e1dd37"/>
<path d="M124.04 371.20h4.17v3.20h-1.00v1.00h-3.17z" fill="#31aff5"/>
<path d="M127.21 371.20h4.17v3.20h-1.00v1.00h-3.17z" fill="#61fc6c"/>
<rect x="130.37" y="371.20" width="3.17" height="4.20" fill="#4249b1"/>
<path d="M48.08 374.40h4.17v3.20h-1.00v1.00h-3.17z" fill="#ea4e0d"/>
<path d="M51.25 374.40h4.17v3.20h-1.00v1.00h-3.17z" fill="#e5470b"/>
<path d="M54.41 374.40h4.17v3.20h-1.00v1.00h-3.17z" fill="#e2430a"/>
<path d="M57.58 374.40h4.17v3.20h-1.00v1.00h-3.17z" fill="#920b01"/>
<path d="M60.74 374.40h4.17v3.20h-1.00v1.00h-3.17z" fill="#b71d02"/>
<path d="M63.91 374.40h4.17v3.20h-1.00v1.00h-3.17z" fill="#bc2002"/>
<path d="M67.07 374.40h4.17v3.20h-1.00v1.00h-3.17z" fill="#b21a01"/>
<path d="M70.24 374.40h4.17v3.20h-1.00v1.00h-3.17z" fill="#e7490c"/>
<path d="M73.40 374.40h4.17v3.20h-1.00v1.00h-3.17z" fill="#fdae35"/>
<path d="M76.57 374.40h4.17v3.20h-1.00v1.00h-3.17z" fill="#79fe59"/>
<path d="M79.73 374.40h4.17v3.20h-1.00v1.00h-3.17z" fill="#bef434"/>
<path d="M82.90 374.40h4.17v3.20h-1.00v1.00h-3.17z" fill="#75fe5c"/>
<path d="M86.06 374.40h4.17v3.20h-1.00v1.00h-3.17z" fill="#fea431"/>
<path d="M89.23 374.40h4.17v3.20h-1.00v1.00h-3.17z" fill="#f46617"/>
<path d="M92.39 374.40h4.17v3.20h-1.00v1.00h-3.17z" fill="#e7d739"/>
<path d="M95.56 374.40h4.17v3.20h-1.00v1.00h-3.17z" fill="#bcf534"/>
<path d="M98.72 374.40h4.17v3.20h-1.00v1.00h-3.17z" fill="#9ffd3f"/>
<path d="M101.89 374.40h4.17v3.20h-1.00v1.00h-3.17z" fill="#27eea4"/>
<path d="M105.05 374.40h4.17v3.20h-1.00v1.00h-3.17z" fill="#a4fc3c"/>
<path d="M108.22 374.40h4.17v3.20h-1.00v1.00h-3.17z" fill="#a1fd3d"/>
<path d="M111.38 374.40h4.17v3.20h-1.00v1.00h-3.17z" fill="#b4f836"/>
<path d="M114.55 374.40h4.17v3.20h-1.00v1.00h-3.17z" fill="#fcb136"/>
<path d="M117.71 374.40h4.17v3.20h-1.00v1.00h-3.17z" fill="#f36315"/>
<path d="M120.88 374.40h4.17v3.20h-1.00v1.00h-3.17z" fill="#fcb336"/>
<path d="M124.04 374.40h4.17v3.20h-1.00v1.00h-3.17z" fill="#b9f635"/>
<path d="M127.21 374.40h4.17v3.20h-1.00v1.00h-3.17z" fill="#1bd0d5"/>
<rect x="130.37" y="374.40" width="3.17" height="3.20" fill="#1ccdd8"/>
<path d="M38.59 377.60h4.17v3.20h-1.00v1.00h-3.17z" fill="#ef5811"/>
<path d="M41.75 377.60h4.17v3.20h-1.00v1.00h-3.17z" fill="#f26014"/>
<path d="M44.92 377.60h7.33v3.20h-1.00v1.00h-6.33z" fill="#eb500e"/>
<path d="M51.25 377.60h4.17v3.20h-1.00v1.00h-3.17z" fill="#f36315"/>
<path d="M54.41 377.60h4.17v3.20h-1.00v1.00h-3.17z" fill="#e7490c"/>
<path d="M57.58 377.60h4.17v3.20h-1.00v1.00h-3.17z" fill="#f05b12"/>
<path d="M60.74 377.60h4.17v3.20h-1.00v1.00h-3.17z" fill="#b91e02"/>
<path d="M63.91 377.60h4.17v3.20h-1.00v1.00h-3.17z" fill="#b41b01"/>
<path d="M67.07 377.60h4.17v3.20h-1.00v1.00h-3.17z" fill="#8e0a01"/>
<path d="M70.24 377.60h4.17v3.20h-1.00v1.00h-3.17z" fill="#c32503"/>
<path d="M73.40 377.60h4.17v3.20h-1.00v1.00h-3.17z" fill="#ca2a04"/>
<path d="M76.57 377.60h7.33v3.20h-1.00v1.00h-6.33z" fill="#f46617"/>
<path d="M82.90 377.60h4.17v3.20h-1.00v1.00h-3.17z" fill="#f05b12"/>
<path d="M86.06 377.60h4.17v3.20h-1.00v1.00h-3.17z" fill="#f46617"/>
<path d="M89.23 377.60h4.17v3.20h-1.00v1.00h-3.17z" fill="#cc2b04"/>
<path d="M92.39 377.60h4.17v3.20h-1.00v1.00h-3.17z" fill="#ed5510"/>
<path d="M95.56 377.60h4.17v3.20h-1.00v1.00h-3.17z" fill="#f56918"/>
<path d="M98.72 377.60h4.17v3.20h-1.00v1.00h-3.17z" fill="#fdae35"/>
<path d="M101.89 377.60h4.17v3.20h-1.00v1.00h-3.17z" fill="#a4fc3c"/>
<path d="M105.05 377.60h4.17v3.20h-1.00v1.00h-3.17z" fill="#71fe5f"/>
<path d="M108.22 377.60h4.17v3.20h-1.00v1.00h-3.17z" fill="#75fe5c"/>
<path d="M111.38 377.60h4.17v3.20h-1.00v1.00h-3.17z" fill="#20eaac"/>
<path d="M114.55 377.60h4.17v3.20h-1.00v1.00h-3.17z" fill="#9ffd3f"/>
<path d="M117.71 377.60h4.17v3.20h-1.00v1.00h-3.17z" fill="#b7f735"/>
<path d="M120.88 377.60h4.17v3.20h-1.00v1.00h-3.17z" fill="#f66c19"/>
<path d="M124.04 377.60h4.17v3.20h-1.00v1.00h-3.17z" fill="#cc2b04"/>
<rect x="127.21" y="377.60" width="3.17" height="3.20" fill="#f76f1a"/>
<path d="M35.42 380.80h4.17v3.20h-1.00v1.00h-3.17z" fill="#e4450a"/>
<path d="M38.59 380.80h4.17v3.20h-1.00v1.00h-3.17z" fill="#f15d13"/>
<path d="M41.75 380.80h4.17v3.20h-1.00v1.00h-3.17z" fill="#e5470b"/>
<path d="M44.92 380.80h4.17v3.20h-1.00v1.00h-3.17z" fill="#ea4e0d"/>
<path d="M48.08 380.80h4.17v3.20h-1.00v1.00h-3.17z" fill="#e84b0c"/>
<path d="M51.25 380.80h4.17v3.20h-1.00v1.00h-3.17z" fill="#ea4e0d"/>
<path d="M54.41 380.80h4.17v3.20h-1.00v1.00h-3.17z" fill="#f26014"/>
<path d="M57.58 380.80h4.17v3.20h-1.00v1.00h-3.17z" fill="#be2102"/>
<path d="M60.74 380.80h4.17v3.20h-1.00v1.00h-3.17z" fill="#c12302"/>
<path d="M63.91 380.80h4.17v3.20h-1.00v1.00h-3.17z" fill="#b91e02"/>
<path d="M67.07 380.80h4.17v3.20h-1.00v1.00h-3.17z" fill="#c32503"/>
<path d="M70.24 380.80h4.17v3.20h-1.00v1.00h-3.17z" fill="#bc2002"/>
<path d="M73.40 380.80h4.17v3.20h-1.00v1.00h-3.17z" fill="#b41b01"/>
<path d="M76.57 380.80h4.17v3.20h-1.00v1.00h-3.17z" fill="#ea4e0d"/>
<path d="M79.73 380.80h4.17v3.20h-1.00v1.00h-3.17z" fill="#ed5510"/>
<path d="M82.90 380.80h4.17v3.20h-1.00v1.00h-3.17z" fill="#eb500e"/>
<path d="M86.06 380.80h4.17v3.20h-1.00v1.00h-3.17z" fill="#fe9e2f"/>
<path d="M89.23 380.80h4.17v3.20h-1.00v1.00h-3.17z" fill="#ec530f"/>
<path d="M92.39 380.80h4.17v3.20h-1.00v1.00h-3.17z" fill="#e84b0c"/>
<path d="M95.56 380.80h4.17v3.20h-1.00v1.00h-3.17z" fill="#fea732"/>
<path d="M98.72 380.80h4.17v3.20h-1.00v1.00h-3.17z" fill="#fea933"/>
<path d="M101.89 380.80h4.17v3.20h-1.00v1.00h-3.17z" fill="#fcb336"/>
<path d="M105.05 380.80h4.17v3.20h-1.00v1.00h-3.17z" fill="#fea933"/>
<path d="M108.22 380.80h4.17v3.20h-1.00v1.00h-3.17z" fill="#e1dd37"/>
<path d="M111.38 380.80h4.17v3.20h-1.00v1.00h-3.17z" fill="#fbb838"/>
<path d="M114.55 380.80h4.17v3.20h-1.00v1.00h-3.17z" fill="#9cfe40"/>
<rect x="117.71" y="380.80" width="4.17" height="3.20" fill="#19d5cd"/>
<rect x="120.88" y="380.80" width="4.17" height="3.20" fill="#acfb38"/>
<rect x="124.04" y="380.80" width="3.17" height="3.20" fill="#ed5510"/>
<path d="M35.42 384.00h4.17v3.20h-1.00v1.00h-3.17z" fill="#eb500e"/>
<path d="M38.59 384.00h4.17v3.20h-1.00v1.00h-3.17z" fill="#e84b0c"/>
<path d="M41.75 384.00h4.17v3.20h-1.00v1.00h-3.17z" fill="#ea4e0d"/>
<path d="M44.92 384.00h4.17v3.20h-1.00v1.00h-3.17z" fill="#e5470b"/>
<path d="M48.08 384.00h4.17v3.20h-1.00v1.00h-3.17z" fill="#ef5811"/>
<path d="M51.25 384.00h4.17v3.20h-1.00v1.00h-3.17z" fill="#ec530f"/>
<path d="M54.41 384.00h4.17v3.20h-1.00v1.00h-3.17z" fill="#e7490c"/>
<path d="M57.58 384.00h4.17v3.20h-1.00v1.00h-3.17z" fill="#c32503"/>
<path d="M60.74 384.00h4.17v3.20h-1.00v1.00h-3.17z" fill="#be2102"/>
<path d="M63.91 384.00h4.17v3.20h-1.00v1.00h-3.17z" fill="#b91e02"/>
<path d="M67.07 384.00h4.17v3.20h-1.00v1.00h-3.17z" fill="#8e0a01"/>
<path d="M70.24 384.00h4.17v3.20h-1.00v1.00h-3.17z" fill="#880802"/>
<path d="M73.40 384.00h4.17v3.20h-1.00v1.00h-3.17z" fill="#8b0902"/>
<path d="M76.57 384.00h4.17v3.20h-1.00v1.00h-3.17z" fill="#c82803"/>
<path d="M79.73 384.00h4.17v3.20h-1.00v1.00h-3.17z" fill="#b91e02"/>
<path d="M82.90 384.00h4.17v3.20h-1.00v1.00h-3.17z" fill="#e7490c"/>
<path d="M86.06 384.00h4.17v3.20h-1.00v1.00h-3.17z" fill="#ec530f"/>
<path d="M89.23 384.00h4.17v3.20h-1.00v1.00h-3.17z" fill="#f15d13"/>
<path d="M92.39 384.00h4.17v3.20h-1.00v1.00h-3.17z" fill="#e5470b"/>
<path d="M95.56 384.00h4.17v3.20h-1.00v1.00h-3.17z" fill="#fdac34"/>
<path d="M98.72 384.00h4.17v3.20h-1.00v1.00h-3.17z" fill="#ec530f"/>
<path d="M101.89 384.00h4.17v3.20h-1.00v1.00h-3.17z" fill="#e84b0c"/>
<path d="M105.05 384.00h4.17v3.20h-1.00v1.00h-3.17z" fill="#ef5811"/>
<path d="M108.22 384.00h4.17v3.20h-1.00v1.00h-3.17z" fill="#fcb336"/>
<path d="M111.38 384.00h4.17v3.20h-1.00v1.00h-3.17z" fill="#59fb73"/>
<rect x="114.55" y="384.00" width="3.17" height="4.20" fill="#1ad4d0"/>
<path d="M35.42 387.20h4.17v3.20h-1.00v1.00h-3.17z" fill="#e5470b"/>
<path d="M38.59 387.20h4.17v3.20h-1.00v1.00h-3.17z" fill="#e4450a"/>
<path d="M41.75 387.20h4.17v3.20h-1.00v1.00h-3.17z" fill="#e5470b"/>
<path d="M44.92 387.20h4.17v3.20h-1.00v1.00h-3.17z" fill="#ed5510"/>
<path d="M48.08 387.20h4.17v3.20h-1.00v1.00h-3.17z" fill="#e5470b"/>
<path d="M51.25 387.20h4.17v3.20h-1.00v1.00h-3.17z" fill="#e4450a"/>
<path d="M54.41 387.20h4.17v3.20h-1.00v1.00h-3.17z" fill="#ed5510"/>
<path d="M57.58 387.20h4.17v3.20h-1.00v1.00h-3.17z" fill="#b91e02"/>
<path d="M60.74 387.20h4.17v3.20h-1.00v1.00h-3.17z" fill="#c52603"/>
<path d="M63.91 387.20h4.17v3.20h-1.00v1.00h-3.17z" fill="#be2102"/>
<path d="M67.07 387.20h4.17v3.20h-1.00v1.00h-3.17z" fill="#880802"/>
<path d="M70.24 387.20h4.17v3.20h-1.00v1.00h-3.17z" fill="#8b0902"/>
<path d="M73.40 387.20h4.17v3.20h-1.00v1.00h-3.17z" fill="#920b01"/>
<path d="M76.57 387.20h4.17v3.20h-1.00v1.00h-3.17z" fill="#c12302"/>
<path d="M79.73 387.20h4.17v3.20h-1.00v1.00h-3.17z" fill="#b41b01"/>
<path d="M82.90 387.20h4.17v3.20h-1.00v1.00h-3.17z" fill="#c82803"/>
<path d="M86.06 387.20h4.17v3.20h-1.00v1.00h-3.17z" fill="#be2102"/>
<path d="M89.23 387.20h4.17v3.20h-1.00v1.00h-3.17z" fill="#c12302"/>
<path d="M92.39 387.20h4.17v3.20h-1.00v1.00h-3.17z" fill="#c82803"/>
<path d="M95.56 387.20h4.17v3.20h-1.00v1.00h-3.17z" fill="#e4450a"/>
<path d="M98.72 387.20h4.17v3.20h-1.00v1.00h-3.17z" fill="#c12302"/>
<path d="M101.89 387.20h4.17v3.20h-1.00v1.00h-3.17z" fill="#c82803"/>
<path d="M105.05 387.20h4.17v3.20h-1.00v1.00h-3.17z" fill="#f15d13"/>
<path d="M108.22 387.20h4.17v3.20h-1.00v1.00h-3.17z" fill="#9ffd3f"/>
<path d="M111.38 387.20h4.17v3.20h-1.00v1.00h-3.17z" fill="#3e9bfe"/>
<rect x="114.55" y="387.20" width="3.17" height="4.20" fill="#4143a7"/>
<path d="M35.42 390.40h4.17v3.20h-1.00v1.00h-3.17z" fill="#c82803"/>
<path d="M38.59 390.40h4.17v3.20h-1.00v1.00h-3.17z" fill="#c32503"/>
<path d="M41.75 390.40h4.17v3.20h-1.00v1.00h-3.17z" fill="#bc2002"/>
<path d="M44.92 390.40h4.17v3.20h-1.00v1.00h-3.17z" fill="#c32503"/>
<path d="M48.08 390.40h4.17v3.20h-1.00v1.00h-3.17z" fill="#950d01"/>
<path d="M51.25 390.40h4.17v3.20h-1.00v1.00h-3.17z" fill="#be2102"/>
<path d="M54.41 390.40h4.17v3.20h-1.00v1.00h-3.17z" fill="#8b0902"/>
<path d="M57.58 390.40h4.17v3.20h-1.00v1.00h-3.17z" fill="#8e0a01"/>
<path d="M60.74 390.40h4.17v3.20h-1.00v1.00h-3.17z" fill="#c52603"/>
<path d="M63.91 390.40h4.17v3.20h-1.00v1.00h-3.17z" fill="#bc2002"/>
<path d="M67.07 390.40h4.17v3.20h-1.00v1.00h-3.17z" fill="#be2102"/>
<path d="M70.24 390.40h7.33v3.20h-1.00v1.00h-6.33z" fill="#b41b01"/>
<path d="M76.57 390.40h4.17v3.20h-1.00v1.00h-3.17z" fill="#8e0a01"/>
<path d="M79.73 390.40h7.33v3.20h-1.00v1.00h-6.33z" fill="#880802"/>
<path d="M86.06 390.40h4.17v3.20h-1.00v1.00h-3.17z" fill="#bc2002"/>
<path d="M89.23 390.40h4.17v3.20h-1.00v1.00h-3.17z" fill="#b41b01"/>
<path d="M92.39 390.40h4.17v3.20h-1.00v1.00h-3.17z" fill="#ca2a04"/>
<path d="M95.56 390.40h4.17v3.20h-1.00v1.00h-3.17z" fill="#b71d02"/>
<path d="M98.72 390.40h4.17v3.20h-1.00v1.00h-3.17z" fill="#7a0403"/>
<path d="M101.89 390.40h4.17v3.20h-1.00v1.00h-3.17z" fill="#920b01"/>
<path d="M105.05 390.40h4.17v3.20h-1.00v1.00h-3.17z" fill="#f15d13"/>
<path d="M108.22 390.40h4.17v3.20h-1.00v1.00h-3.17z" fill="#fdae35"/>
<rect x="111.38" y="390.40" width="4.17" height="3.20" fill="#392a73"/>
<rect x="114.55" y="390.40" width="3.17" height="4.20" fill="#351e58"/>
<rect x="35.42" y="393.60" width="4.17" height="3.20" fill="#c12302"/>
<rect x="38.59" y="393.60" width="7.33" height="3.20" fill="#b71d02"/>
<path d="M44.92 393.60h4.17v3.20h-1.00v1.00h-3.17z" fill="#b21a01"/>
<path d="M48.08 393.60h4.17v3.20h-1.00v1.00h-3.17z" fill="#8b0902"/>
<path d="M51.25 393.60h4.17v3.20h-1.00v1.00h-3.17z" fill="#920b01"/>
<path d="M54.41 393.60h4.17v3.20h-1.00v1.00h-3.17z" fill="#bc2002"/>
<path d="M57.58 393.60h4.17v3.20h-1.00v1.00h-3.17z" fill="#b41b01"/>
<path d="M60.74 393.60h4.17v3.20h-1.00v1.00h-3.17z" fill="#950d01"/>
<path d="M63.91 393.60h4.17v3.20h-1.00v1.00h-3.17z" fill="#bc2002"/>
<path d="M67.07 393.60h4.17v3.20h-1.00v1.00h-3.17z" fill="#b91e02"/>
<path d="M70.24 393.60h4.17v3.20h-1.00v1.00h-3.17z" fill="#ea4e0d"/>
<path d="M73.40 393.60h4.17v3.20h-1.00v1.00h-3.17z" fill="#950d01"/>
<path d="M76.57 393.60h4.17v3.20h-1.00v1.00h-3.17z" fill="#850702"/>
<path d="M79.73 393.60h4.17v3.20h-1.00v1.00h-3.17z" fill="#be2102"/>
<path d="M82.90 393.60h4.17v3.20h-1.00v1.00h-3.17z" fill="#b91e02"/>
<path d="M86.06 393.60h4.17v3.20h-1.00v1.00h-3.17z" fill="#c12302"/>
<path d="M89.23 393.60h4.17v3.20h-1.00v1.00h-3.17z" fill="#ec530f"/>
<path d="M92.39 393.60h4.17v3.20h-1.00v1.00h-3.17z" fill="#ed5510"/>
<path d="M95.56 393.60h4.17v3.20h-1.00v1.00h-3.17z" fill="#b71d02"/>
<path d="M98.72 393.60h4.17v3.20h-1.00v1.00h-3.17z" fill="#980e01"/>
<path d="M101.89 393.60h4.17v3.20h-1.00v1.00h-3.17z" fill="#c82803"/>
<path d="M105.05 393.60h4.17v3.20h-1.00v1.00h-3.17z" fill="#f05b12"/>
<rect x="108.22" y="393.60" width="3.17" height="4.20" fill="#fcb336"/>
<rect x="114.55" y="393.60" width="3.17" height="3.20" fill="#372466"/>
<path d="M44.92 396.80h4.17v3.20h-1.00v1.00h-3.17z" fill="#b91e02"/>
<rect x="48.08" y="396.80" width="4.17" height="3.20" fill="#980e01"/>
<path d="M51.25 396.80h4.17v3.20h-1.00v1.00h-3.17z" fill="#980e01"/>
<rect x="54.41" y="396.80" width="4.17" height="3.20" fill="#e7490c"/>
<rect x="57.58" y="396.80" width="4.17" height="3.20" fill="#b41b01"/>
<path d="M60.74 396.80h4.17v3.20h-1.00v1.00h-3.17z" fill="#be2102"/>
<path d="M63.91 396.80h4.17v3.20h-1.00v1.00h-3.17z" fill="#c12302"/>
<path d="M67.07 396.80h4.17v3.20h-1.00v1.00h-3.17z" fill="#b91e02"/>
<path d="M70.24 396.80h4.17v3.20h-1.00v1.00h-3.17z" fill="#fe9e2f"/>
<path d="M73.40 396.80h4.17v3.20h-1.00v1.00h-3.17z" fill="#bc2002"/>
<path d="M76.57 396.80h4.17v3.20h-1.00v1.00h-3.17z" fill="#920b01"/>
<path d="M79.73 396.80h4.17v3.20h-1.00v1.00h-3.17z" fill="#bc2002"/>
<path d="M82.90 396.80h4.17v3.20h-1.00v1.00h-3.17z" fill="#eb500e"/>
<path d="M86.06 396.80h4.17v3.20h-1.00v1.00h-3.17z" fill="#fdac34"/>
<path d="M89.23 396.80h4.17v3.20h-1.00v1.00h-3.17z" fill="#e7d739"/>
<path d="M92.39 396.80h4.17v3.20h-1.00v1.00h-3.17z" fill="#e9d539"/>
<path d="M95.56 396.80h4.17v3.20h-1.00v1.00h-3.17z" fill="#f1cb3a"/>
<path d="M98.72 396.80h4.17v3.20h-1.00v1.00h-3.17z" fill="#be2102"/>
<path d="M101.89 396.80h4.17v3.20h-1.00v1.00h-3.17z" fill="#eecf3a"/>
<path d="M105.05 396.80h4.17v3.20h-1.00v1.00h-3.17z" fill="#efcd3a"/>
<rect x="108.22" y="396.80" width="3.17" height="3.20" fill="#a7fc3a"/>
<rect x="44.92" y="400.00" width="3.17" height="3.20" fill="#c32503"/>
<rect x="51.25" y="400.00" width="3.17" height="3.20" fill="#b71d02"/>
<rect x="60.74" y="400.00" width="4.17" height="3.20" fill="#b71d02"/>
<path d="M63.91 400.00h4.17v3.20h-1.00v1.00h-3.17z" fill="#7a0403"/>
<path d="M67.07 400.00h4.17v3.20h-1.00v1.00h-3.17z" fill="#9b0f01"/>
<path d="M70.24 400.00h4.17v3.20h-1.00v1.00h-3.17z" fill="#fea130"/>
<path d="M73.40 400.00h4.17v3.20h-1.00v1.00h-3.17z" fill="#920b01"/>
<path d="M76.57 400.00h4.17v3.20h-1.00v1.00h-3.17z" fill="#950d01"/>
<path d="M79.73 400.00h4.17v3.20h-1.00v1.00h-3.17z" fill="#8b0902"/>
<path d="M82.90 400.00h4.17v3.20h-1.00v1.00h-3.17z" fill="#fea431"/>
<path d="M86.06 400.00h4.17v3.20h-1.00v1.00h-3.17z" fill="#bef434"/>
<path d="M89.23 400.00h4.17v3.20h-1.00v1.00h-3.17z" fill="#fcb336"/>
<path d="M92.39 400.00h4.17v3.20h-1.00v1.00h-3.17z" fill="#b1f936"/>
<path d="M95.56 400.00h4.17v3.20h-1.00v1.00h-3.17z" fill="#ca2a04"/>
<path d="M98.72 400.00h4.17v3.20h-1.00v1.00h-3.17z" fill="#cc2b04"/>
<path d="M101.89 400.00h4.17v3.20h-1.00v1.00h-3.17z" fill="#f56918"/>
<rect x="105.05" y="400.00" width="3.17" height="4.20" fill="#1de7b2"/>
<rect x="63.91" y="403.20" width="4.17" height="3.20" fill="#f1cb3a"/>
<rect x="67.07" y="403.20" width="4.17" height="3.20" fill="#b71d02"/>
<path d="M70.24 403.20h4.17v3.20h-1.00v1.00h-3.17z" fill="#880802"/>
<path d="M73.40 403.20h4.17v3.20h-1.00v1.00h-3.17z" fill="#ca2a04"/>
<path d="M76.57 403.20h4.17v3.20h-1.00v1.00h-3.17z" fill="#ec530f"/>
<path d="M79.73 403.20h4.17v3.20h-1.00v1.00h-3.17z" fill="#e7490c"/>
<rect x="82.90" y="403.20" width="4.17" height="3.20" fill="#fcb136"/>
<path d="M86.06 403.20h4.17v3.20h-1.00v1.00h-3.17z" fill="#9b0f01"/>
<path d="M89.23 403.20h4.17v3.20h-1.00v1.00h-3.17z" fill="#a1fd3d"/>
<path d="M92.39 403.20h4.17v3.20h-1.00v1.00h-3.17z" fill="#1fe9af"/>
<path d="M95.56 403.20h7.33v3.20h-1.00v1.00h-6.33z" fill="#cc2b04"/>
<path d="M101.89 403.20h4.17v3.20h-1.00v1.00h-3.17z" fill="#fbb637"/>
<rect x="105.05" y="403.20" width="3.17" height="3.20" fill="#38a5fb"/>
<rect x="70.24" y="406.40" width="4.17" height="3.20" fill="#e2430a"/>
<rect x="73.40" y="406.40" width="4.17" height="3.20" fill="#e84b0c"/>
<path d="M76.57 406.40h4.17v3.20h-1.00v1.00h-3.17z" fill="#f36315"/>
<rect x="79.73" y="406.40" width="3.17" height="4.20" fill="#fdac34"/>
<path d="M86.06 406.40h7.33v3.20h-1.00v1.00h-6.33z" fill="#9cfe40"/>
<rect x="92.39" y="406.40" width="4.17" height="3.20" fill="#75fe5c"/>
<rect x="95.56" y="406.40" width="4.17" height="3.20" fill="#b9f635"/>
<rect x="98.72" y="406.40" width="4.17" height="3.20" fill="#18d7ca"/>
<rect x="101.89" y="406.40" width="3.17" height="3.20" fill="#424bb5"/>
<path d="M76.57 409.60h4.17v3.20h-1.00v1.00h-3.17z" fill="#f66c19"/>
<path d="M79.73 409.60h4.17v3.20h-1.00v1.00h-3.17z" fill="#e3db38"/>
<path d="M82.90 409.60h4.17v3.20h-1.00v1.00h-3.17z" fill="#466be3"/>
<path d="M86.06 409.60h4.17v3.20h-1.00v1.00h-3.17z" fill="#2eb4f2"/>
<rect x="89.23" y="409.60" width="3.17" height="3.20" fill="#35abf8"/>
<rect x="76.57" y="412.80" width="4.17" height="3.20" fill="#b7f735"/>
<rect x="79.73" y="412.80" width="4.17" height="3.20" fill="#69fd66"/>
<rect x="82.90" y="412.80" width="4.17" height="3.20" fill="#59fb73"/>
<rect x="86.06" y="412.80" width="3.17" height="3.20" fill="#55fa76"/>
</g>
<path d="M46.50 326.10V416.35M62.33 326.10V416.35M78.15 326.10V416.35M93.97 326.10V416.35M109.80 326.10V416.35M125.62 326.10V416.35M30.20 331.20H141.50M30.20 347.20H141.50M30.20 363.20H141.50M30.20 379.20H141.50M30.20 395.20H141.50M30.20 411.20H141.50" stroke="#b0b0b0" stroke-width="0.67" fill="none"/>
<path d="M46.50 416.35v2.9M62.33 416.35v2.9M78.15 416.35v2.9M93.97 416.35v2.9M109.80 416.35v2.9M125.62 416.35v2.9M30.20 331.20h-2.9M30.20 347.20h-2.9M30.20 363.20h-2.9M30.20 379.20h-2.9M30.20 395.20h-2.9M30.20 411.20h-2.9" stroke="#000" stroke-width="0.67" fill="none"/>
<rect x="30.20" y="326.10" width="111.30" height="90.25" fill="none" stroke="#000" stroke-width="0.67"/>
<text transform="translate(49.60 422.95) rotate(-90)" text-anchor="end" font-size="8.33">70°W</text>
<text transform="translate(65.42 422.95) rotate(-90)" text-anchor="end" font-size="8.33">65°W</text>
<text transform="translate(81.25 422.95) rotate(-90)" text-anchor="end" font-size="8.33">60°W</text>
<text transform="translate(97.07 422.95) rotate(-90)" text-anchor="end" font-size="8.33">55°W</text>
<text transform="translate(112.90 422.95) rotate(-90)" text-anchor="end" font-size="8.33">50°W</text>
<text transform="translate(128.72 422.95) rotate(-90)" text-anchor="end" font-size="8.33">45°W</text>
<text x="25.40" y="334.30" text-anchor="end" font-size="8.33">10°N</text>
<text x="25.40" y="350.30" text-anchor="end" font-size="8.33">5°N</text>
<text x="25.40" y="366.30" text-anchor="end" font-size="8.33">0°</text>
<text x="25.40" y="382.30" text-anchor="end" font-size="8.33">5°S</text>
<text x="25.40" y="398.30" text-anchor="end" font-size="8.33">10°S</text>
<text x="25.40" y="414.30" text-anchor="end" font-size="8.33">15°S</text>
<rect x="153.20" y="326.10" width="5.10" height="90.25" fill="url(#tb)" stroke="#000" stroke-width="0.67"/>
<text x="163.80" y="404.07" font-size="8.33">0.7</text>
<text x="163.80" y="379.18" font-size="8.33">0.8</text>
<text x="163.80" y="354.29" font-size="8.33">0.9</text>
<text x="163.80" y="329.40" font-size="8.33">1.0</text>
<path d="M158.30 400.77h2.9M158.30 375.88h2.9M158.30 350.99h2.9M158.30 326.10h2.9" stroke="#000" stroke-width="0.67" fill="none"/>
<text transform="translate(187.20 371.23) rotate(-90)" text-anchor="middle" font-size="8.33">f0 (dimensionless)</text>
<rect x="251.30" y="412.38" width="11.52" height="3.97" fill="#30123b"/>
<rect x="262.52" y="411.06" width="11.52" height="5.29" fill="#3d358b"/>
<rect x="273.74" y="415.03" width="11.52" height="1.32" fill="#4559cb"/>
<rect x="284.96" y="415.03" width="11.52" height="1.32" fill="#477bf2"/>
<rect x="296.18" y="412.38" width="11.52" height="3.97" fill="#3e9bfe"/>
<rect x="307.40" y="411.06" width="11.52" height="5.29" fill="#28bceb"/>
<rect x="318.62" y="407.09" width="11.52" height="9.26" fill="#19d5cd"/>
<rect x="329.84" y="405.77" width="11.52" height="10.58" fill="#20eaac"/>
<rect x="341.06" y="407.09" width="11.52" height="9.26" fill="#46f884"/>
<rect x="352.28" y="389.90" width="11.52" height="26.45" fill="#79fe59"/>
<rect x="363.50" y="407.09" width="11.52" height="9.26" fill="#a4fc3c"/>
<rect x="374.72" y="392.55" width="11.52" height="23.80" fill="#c3f134"/>
<rect x="385.94" y="384.61" width="11.52" height="31.74" fill="#e1dd37"/>
<rect x="397.16" y="379.32" width="11.52" height="37.03" fill="#f6c33a"/>
<rect x="408.38" y="384.61" width="11.52" height="31.74" fill="#fea431"/>
<rect x="419.60" y="378.00" width="11.52" height="38.35" fill="#fb7e21"/>
<rect x="430.82" y="344.94" width="11.52" height="71.41" fill="#f05b12"/>
<rect x="442.04" y="337.01" width="11.52" height="79.34" fill="#dd3d08"/>
<rect x="453.26" y="330.40" width="11.52" height="85.95" fill="#c32503"/>
<rect x="464.48" y="362.13" width="11.22" height="54.22" fill="#a11201"/>
<text x="259.10" y="429.15" text-anchor="middle" font-size="8.33">0.65</text>
<text x="290.04" y="429.15" text-anchor="middle" font-size="8.33">0.70</text>
<text x="320.98" y="429.15" text-anchor="middle" font-size="8.33">0.75</text>
<text x="351.93" y="429.15" text-anchor="middle" font-size="8.33">0.80</text>
<text x="382.87" y="429.15" text-anchor="middle" font-size="8.33">0.85</text>
<text x="413.81" y="429.15" text-anchor="middle" font-size="8.33">0.90</text>
<text x="444.76" y="429.15" text-anchor="middle" font-size="8.33">0.95</text>
<text x="475.70" y="429.15" text-anchor="middle" font-size="8.33">1.00</text>
<text x="234.50" y="419.45" text-anchor="end" font-size="8.33">0</text>
<text x="234.50" y="393.00" text-anchor="end" font-size="8.33">20</text>
<text x="234.50" y="366.56" text-anchor="end" font-size="8.33">40</text>
<text x="234.50" y="340.11" text-anchor="end" font-size="8.33">60</text>
<path d="M259.10 326.10V416.35M290.04 326.10V416.35M320.98 326.10V416.35M351.93 326.10V416.35M382.87 326.10V416.35M413.81 326.10V416.35M444.76 326.10V416.35M475.70 326.10V416.35M240.40 416.35H486.60M240.40 389.90H486.60M240.40 363.46H486.60M240.40 337.01H486.60" stroke="#b0b0b0" stroke-width="0.67" fill="none"/>
<path d="M259.10 416.35v2.9M290.04 416.35v2.9M320.98 416.35v2.9M351.93 416.35v2.9M382.87 416.35v2.9M413.81 416.35v2.9M444.76 416.35v2.9M475.70 416.35v2.9M240.40 416.35h-2.9M240.40 389.90h-2.9M240.40 363.46h-2.9M240.40 337.01h-2.9" stroke="#000" stroke-width="0.67" fill="none"/>
<rect x="240.40" y="326.10" width="246.20" height="90.25" fill="none" stroke="#000" stroke-width="0.67"/>
<text x="363.50" y="440.25" text-anchor="middle" font-size="8.33">f0 (dimensionless)</text>
<text transform="translate(219.30 371.83) rotate(-90)" text-anchor="middle" font-size="8.33">frequency</text>
<text x="215.10" y="474.20" font-size="11.35" text-anchor="middle">fd = -0.00101 + 0.00220 * LAI</text>
<g>
<path d="M76.57 498.90h4.17v3.20h-1.00v1.00h-3.17z" fill="#e1dd37"/>
<rect x="79.73" y="498.90" width="3.17" height="4.20" fill="#dfdf37"/>
<rect x="63.91" y="502.10" width="3.17" height="4.20" fill="#fcb336"/>
<path d="M70.24 502.10h4.17v3.20h-1.00v1.00h-3.17z" fill="#dc3b07"/>
<path d="M73.40 502.10h4.17v3.20h-1.00v1.00h-3.17z" fill="#b1f936"/>
<path d="M76.57 502.10h4.17v3.20h-1.00v1.00h-3.17z" fill="#9cfe40"/>
<rect x="79.73" y="502.10" width="3.17" height="4.20" fill="#dfdf37"/>
<rect x="105.05" y="502.10" width="3.17" height="4.20" fill="#59fb73"/>
<path d="M63.91 505.30h4.17v3.20h-1.00v1.00h-3.17z" fill="#dc3b07"/>
<path d="M67.07 505.30h4.17v3.20h-1.00v1.00h-3.17z" fill="#fcb136"/>
<path d="M70.24 505.30h4.17v3.20h-1.00v1.00h-3.17z" fill="#dd3d08"/>
<path d="M73.40 505.30h4.17v3.20h-1.00v1.00h-3.17z" fill="#dfdf37"/>
<path d="M76.57 505.30h4.17v3.20h-1.00v1.00h-3.17z" fill="#dbe236"/>
<rect x="79.73" y="505.30" width="3.17" height="4.20" fill="#dfdf37"/>
<path d="M101.89 505.30h4.17v3.20h-1.00v1.00h-3.17z" fill="#f5c53a"/>
<rect x="105.05" y="505.30" width="3.17" height="4.20" fill="#e1dd37"/>
<rect x="54.41" y="508.50" width="3.17" height="4.20" fill="#f15d13"/>
<path d="M63.91 508.50h4.17v3.20h-1.00v1.00h-3.17z" fill="#af1801"/>
<path d="M67.07 508.50h4.17v3.20h-1.00v1.00h-3.17z" fill="#fdae35"/>
<path d="M70.24 508.50h4.17v3.20h-1.00v1.00h-3.17z" fill="#d83706"/>
<path d="M73.40 508.50h4.17v3.20h-1.00v1.00h-3.17z" fill="#f05b12"/>
<path d="M76.57 508.50h4.17v3.20h-1.00v1.00h-3.17z" fill="#fbb637"/>
<rect x="79.73" y="508.50" width="3.17" height="4.20" fill="#acfb38"/>
<path d="M89.23 508.50h4.17v3.20h-1.00v1.00h-3.17z" fill="#fb8122"/>
<path d="M92.39 508.50h4.17v3.20h-1.00v1.00h-3.17z" fill="#d7e535"/>
<path d="M95.56 508.50h4.17v3.20h-1.00v1.00h-3.17z" fill="#dde037"/>
<path d="M98.72 508.50h4.17v3.20h-1.00v1.00h-3.17z" fill="#dbe236"/>
<path d="M101.89 508.50h4.17v3.20h-1.00v1.00h-3.17z" fill="#fbb838"/>
<path d="M105.05 508.50h4.17v3.20h-1.00v1.00h-3.17z" fill="#f6c33a"/>
<rect x="108.22" y="508.50" width="3.17" height="4.20" fill="#fbb637"/>
<path d="M48.08 511.70h4.17v3.20h-1.00v1.00h-3.17z" fill="#f56918"/>
<path d="M51.25 511.70h4.17v3.20h-1.00v1.00h-3.17z" fill="#f05b12"/>
<path d="M54.41 511.70h4.17v3.20h-1.00v1.00h-3.17z" fill="#f66c19"/>
<path d="M57.58 511.70h4.17v3.20h-1.00v1.00h-3.17z" fill="#f9751d"/>
<path d="M60.74 511.70h4.17v3.20h-1.00v1.00h-3.17z" fill="#ef5811"/>
<path d="M63.91 511.70h4.17v3.20h-1.00v1.00h-3.17z" fill="#d63506"/>
<path d="M67.07 511.70h4.17v3.20h-1.00v1.00h-3.17z" fill="#a91601"/>
<path d="M70.24 511.70h7.33v3.20h-1.00v1.00h-6.33z" fill="#af1801"/>
<path d="M76.57 511.70h4.17v3.20h-1.00v1.00h-3.17z" fill="#d23105"/>
<path d="M79.73 511.70h4.17v3.20h-1.00v1.00h-3.17z" fill="#f9751d"/>
<path d="M82.90 511.70h4.17v3.20h-1.00v1.00h-3.17z" fill="#dde037"/>
<path d="M86.06 511.70h4.17v3.20h-1.00v1.00h-3.17z" fill="#faba39"/>
<path d="M89.23 511.70h4.17v3.20h-1.00v1.00h-3.17z" fill="#f9bc39"/>
<path d="M92.39 511.70h4.17v3.20h-1.00v1.00h-3.17z" fill="#e3db38"/>
<path d="M95.56 511.70h4.17v3.20h-1.00v1.00h-3.17z" fill="#e5d938"/>
<path d="M98.72 511.70h4.17v3.20h-1.00v1.00h-3.17z" fill="#fbb838"/>
<path d="M101.89 511.70h4.17v3.20h-1.00v1.00h-3.17z" fill="#d7e535"/>
<path d="M105.05 511.70h4.17v3.20h-1.00v1.00h-3.17z" fill="#fa7b1f"/>
<rect x="108.22" y="511.70" width="3.17" height="4.20" fill="#d9e436"/>
<path d="M44.92 514.90h4.17v3.20h-1.00v1.00h-3.17z" fill="#d63506"/>
<path d="M48.08 514.90h4.17v3.20h-1.00v1.00h-3.17z" fill="#f56918"/>
<path d="M51.25 514.90h4.17v3.20h-1.00v1.00h-3.17z" fill="#f8721c"/>
<path d="M54.41 514.90h4.17v3.20h-1.00v1.00h-3.17z" fill="#f26014"/>
<path d="M57.58 514.90h4.17v3.20h-1.00v1.00h-3.17z" fill="#cc2b04"/>
<path d="M60.74 514.90h4.17v3.20h-1.00v1.00h-3.17z" fill="#d83706"/>
<path d="M63.91 514.90h4.17v3.20h-1.00v1.00h-3.17z" fill="#a41301"/>
<path d="M67.07 514.90h4.17v3.20h-1.00v1.00h-3.17z" fill="#c82803"/>
<path d="M70.24 514.90h4.17v3.20h-1.00v1.00h-3.17z" fill="#cc2b04"/>
<path d="M73.40 514.90h4.17v3.20h-1.00v1.00h-3.17z" fill="#c52603"/>
<path d="M76.57 514.90h7.33v3.20h-1.00v1.00h-6.33z" fill="#d63506"/>
<path d="M82.90 514.90h4.17v3.20h-1.00v1.00h-3.17z" fill="#d83706"/>
<path d="M86.06 514.90h4.17v3.20h-1.00v1.00h-3.17z" fill="#fa7b1f"/>
<path d="M89.23 514.90h4.17v3.20h-1.00v1.00h-3.17z" fill="#f46617"/>
<path d="M92.39 514.90h4.17v3.20h-1.00v1.00h-3.17z" fill="#fcb136"/>
<path d="M95.56 514.90h4.17v3.20h-1.00v1.00h-3.17z" fill="#fbb838"/>
<path d="M98.72 514.90h4.17v3.20h-1.00v1.00h-3.17z" fill="#fcb336"/>
<path d="M101.89 514.90h4.17v3.20h-1.00v1.00h-3.17z" fill="#dde037"/>
<path d="M105.05 514.90h4.17v3.20h-1.00v1.00h-3.17z" fill="#e3db38"/>
<rect x="108.22" y="514.90" width="3.17" height="4.20" fill="#e1dd37"/>
<rect x="44.92" y="518.10" width="4.17" height="3.20" fill="#ef5811"/>
<path d="M48.08 518.10h4.17v3.20h-1.00v1.00h-3.17z" fill="#f8721c"/>
<path d="M51.25 518.10h4.17v3.20h-1.00v1.00h-3.17z" fill="#f05b12"/>
<path d="M54.41 518.10h4.17v3.20h-1.00v1.00h-3.17z" fill="#f26014"/>
<path d="M57.58 518.10h4.17v3.20h-1.00v1.00h-3.17z" fill="#d43305"/>
<path d="M60.74 518.10h4.17v3.20h-1.00v1.00h-3.17z" fill="#ce2d04"/>
<path d="M63.91 518.10h4.17v3.20h-1.00v1.00h-3.17z" fill="#c82803"/>
<path d="M67.07 518.10h4.17v3.20h-1.00v1.00h-3.17z" fill="#f05b12"/>
<path d="M70.24 518.10h4.17v3.20h-1.00v1.00h-3.17z" fill="#f36315"/>
<path d="M73.40 518.10h4.17v3.20h-1.00v1.00h-3.17z" fill="#af1801"/>
<path d="M76.57 518.10h7.33v3.20h-1.00v1.00h-6.33z" fill="#da3907"/>
<path d="M82.90 518.10h4.17v3.20h-1.00v1.00h-3.17z" fill="#d83706"/>
<path d="M86.06 518.10h4.17v3.20h-1.00v1.00h-3.17z" fill="#da3907"/>
<path d="M89.23 518.10h4.17v3.20h-1.00v1.00h-3.17z" fill="#ac1701"/>
<path d="M92.39 518.10h4.17v3.20h-1.00v1.00h-3.17z" fill="#d83706"/>
<path d="M95.56 518.10h4.17v3.20h-1.00v1.00h-3.17z" fill="#f26014"/>
<path d="M98.72 518.10h4.17v3.20h-1.00v1.00h-3.17z" fill="#fa7b1f"/>
<path d="M101.89 518.10h4.17v3.20h-1.00v1.00h-3.17z" fill="#d7e535"/>
<path d="M105.05 518.10h4.17v3.20h-1.00v1.00h-3.17z" fill="#9ffd3f"/>
<path d="M108.22 518.10h4.17v3.20h-1.00v1.00h-3.17z" fill="#d4e735"/>
<path d="M111.38 518.10h7.33v3.20h-1.00v1.00h-6.33z" fill="#f8be39"/>
<path d="M117.71 518.10h4.17v3.20h-1.00v1.00h-3.17z" fill="#4af880"/>
<rect x="120.88" y="518.10" width="3.17" height="4.20" fill="#19e3b9"/>
<path d="M48.08 521.30h4.17v3.20h-1.00v1.00h-3.17z" fill="#f15d13"/>
<path d="M51.25 521.30h4.17v3.20h-1.00v1.00h-3.17z" fill="#ef5811"/>
<path d="M54.41 521.30h4.17v3.20h-1.00v1.00h-3.17z" fill="#f15d13"/>
<path d="M57.58 521.30h4.17v3.20h-1.00v1.00h-3.17z" fill="#ef5811"/>
<path d="M60.74 521.30h4.17v3.20h-1.00v1.00h-3.17z" fill="#d63506"/>
<path d="M63.91 521.30h4.17v3.20h-1.00v1.00h-3.17z" fill="#ac1701"/>
<path d="M67.07 521.30h4.17v3.20h-1.00v1.00h-3.17z" fill="#a71401"/>
<path d="M70.24 521.30h4.17v3.20h-1.00v1.00h-3.17z" fill="#d63506"/>
<path d="M73.40 521.30h4.17v3.20h-1.00v1.00h-3.17z" fill="#f26014"/>
<path d="M76.57 521.30h4.17v3.20h-1.00v1.00h-3.17z" fill="#f56918"/>
<path d="M79.73 521.30h4.17v3.20h-1.00v1.00h-3.17z" fill="#61fc6c"/>
<path d="M82.90 521.30h4.17v3.20h-1.00v1.00h-3.17z" fill="#da3907"/>
<path d="M86.06 521.30h4.17v3.20h-1.00v1.00h-3.17z" fill="#d83706"/>
<path d="M89.23 521.30h7.33v3.20h-1.00v1.00h-6.33z" fill="#dc3b07"/>
<path d="M95.56 521.30h4.17v3.20h-1.00v1.00h-3.17z" fill="#dd3d08"/>
<path d="M98.72 521.30h4.17v3.20h-1.00v1.00h-3.17z" fill="#99fe42"/>
<path d="M101.89 521.30h4.17v3.20h-1.00v1.00h-3.17z" fill="#22ebaa"/>
<path d="M105.05 521.30h4.17v3.20h-1.00v1.00h-3.17z" fill="#a1fd3d"/>
<path d="M108.22 521.30h4.17v3.20h-1.00v1.00h-3.17z" fill="#e3db38"/>
<path d="M111.38 521.30h4.17v3.20h-1.00v1.00h-3.17z" fill="#fcb336"/>
<path d="M114.55 521.30h4.17v3.20h-1.00v1.00h-3.17z" fill="#d9e436"/>
<path d="M117.71 521.30h4.17v3.20h-1.00v1.00h-3.17z" fill="#1de7b2"/>
<path d="M120.88 521.30h4.17v3.20h-1.00v1.00h-3.17z" fill="#19e2bb"/>
<path d="M124.04 521.30h4.17v3.20h-1.00v1.00h-3.17z" fill="#52fa7a"/>
<rect x="127.21" y="521.30" width="3.17" height="4.20" fill="#3ff68a"/>
<path d="M48.08 524.50h4.17v3.20h-1.00v1.00h-3.17z" fill="#f56918"/>
<path d="M51.25 524.50h4.17v3.20h-1.00v1.00h-3.17z" fill="#f9781e"/>
<path d="M54.41 524.50h4.17v3.20h-1.00v1.00h-3.17z" fill="#af1801"/>
<path d="M57.58 524.50h4.17v3.20h-1.00v1.00h-3.17z" fill="#d23105"/>
<path d="M60.74 524.50h4.17v3.20h-1.00v1.00h-3.17z" fill="#ca2a04"/>
<path d="M63.91 524.50h4.17v3.20h-1.00v1.00h-3.17z" fill="#9e1001"/>
<path d="M67.07 524.50h4.17v3.20h-1.00v1.00h-3.17z" fill="#a91601"/>
<path d="M70.24 524.50h4.17v3.20h-1.00v1.00h-3.17z" fill="#d43305"/>
<path d="M73.40 524.50h4.17v3.20h-1.00v1.00h-3.17z" fill="#f9bc39"/>
<path d="M76.57 524.50h4.17v3.20h-1.00v1.00h-3.17z" fill="#fb8122"/>
<path d="M79.73 524.50h7.33v3.20h-1.00v1.00h-6.33z" fill="#fc8423"/>
<path d="M86.06 524.50h4.17v3.20h-1.00v1.00h-3.17z" fill="#acfb38"/>
<path d="M89.23 524.50h4.17v3.20h-1.00v1.00h-3.17z" fill="#20eaac"/>
<path d="M92.39 524.50h4.17v3.20h-1.00v1.00h-3.17z" fill="#1fe9af"/>
<path d="M95.56 524.50h4.17v3.20h-1.00v1.00h-3.17z" fill="#4451bf"/>
<path d="M98.72 524.50h4.17v3.20h-1.00v1.00h-3.17z" fill="#96fe44"/>
<path d="M101.89 524.50h4.17v3.20h-1.00v1.00h-3.17z" fill="#55fa76"/>
<path d="M105.05 524.50h4.17v3.20h-1.00v1.00h-3.17z" fill="#9ffd3f"/>
<path d="M108.22 524.50h4.17v3.20h-1.00v1.00h-3.17z" fill="#b4f836"/>
<path d="M111.38 524.50h4.17v3.20h-1.00v1.00h-3.17z" fill="#f6c33a"/>
<path d="M114.55 524.50h4.17v3.20h-1.00v1.00h-3.17z" fill="#da3907"/>
<path d="M117.71 524.50h4.17v3.20h-1.00v1.00h-3.17z" fill="#d7e535"/>
<path d="M120.88 524.50h4.17v3.20h-1.00v1.00h-3.17z" fill="#d2e935"/>
<path d="M124.04 524.50h4.17v3.20h-1.00v1.00h-3.17z" fill="#35abf8"/>
<path d="M127.21 524.50h4.17v3.20h-1.00v1.00h-3.17z" fill="#4ef97d"/>
<rect x="130.37" y="524.50" width="3.17" height="4.20" fill="#4249b1"/>
<path d="M48.08 527.70h4.17v3.20h-1.00v1.00h-3.17z" fill="#f36315"/>
<path d="M51.25 527.70h4.17v3.20h-1.00v1.00h-3.17z" fill="#f05b12"/>
<path d="M54.41 527.70h4.17v3.20h-1.00v1.00h-3.17z" fill="#ef5811"/>
<path d="M57.58 527.70h4.17v3.20h-1.00v1.00h-3.17z" fill="#ac1701"/>
<path d="M60.74 527.70h4.17v3.20h-1.00v1.00h-3.17z" fill="#ca2a04"/>
<path d="M63.91 527.70h4.17v3.20h-1.00v1.00h-3.17z" fill="#d02f05"/>
<path d="M67.07 527.70h4.17v3.20h-1.00v1.00h-3.17z" fill="#c52603"/>
<path d="M70.24 527.70h4.17v3.20h-1.00v1.00h-3.17z" fill="#f15d13"/>
<path d="M73.40 527.70h4.17v3.20h-1.00v1.00h-3.17z" fill="#f9bc39"/>
<path d="M76.57 527.70h4.17v3.20h-1.00v1.00h-3.17z" fill="#61fc6c"/>
<path d="M79.73 527.70h4.17v3.20h-1.00v1.00h-3.17z" fill="#b1f936"/>
<path d="M82.90 527.70h4.17v3.20h-1.00v1.00h-3.17z" fill="#5dfc6f"/>
<path d="M86.06 527.70h4.17v3.20h-1.00v1.00h-3.17z" fill="#fcb336"/>
<path d="M89.23 527.70h4.17v3.20h-1.00v1.00h-3.17z" fill="#fb8122"/>
<path d="M92.39 527.70h4.17v3.20h-1.00v1.00h-3.17z" fill="#dbe236"/>
<path d="M95.56 527.70h4.17v3.20h-1.00v1.00h-3.17z" fill="#affa37"/>
<path d="M98.72 527.70h4.17v3.20h-1.00v1.00h-3.17z" fill="#92ff47"/>
<path d="M101.89 527.70h4.17v3.20h-1.00v1.00h-3.17z" fill="#1fe9af"/>
<path d="M105.05 527.70h4.17v3.20h-1.00v1.00h-3.17z" fill="#99fe42"/>
<path d="M108.22 527.70h4.17v3.20h-1.00v1.00h-3.17z" fill="#96fe44"/>
<path d="M111.38 527.70h4.17v3.20h-1.00v1.00h-3.17z" fill="#a4fc3c"/>
<path d="M114.55 527.70h4.17v3.20h-1.00v1.00h-3.17z" fill="#f7c13a"/>
<path d="M117.71 527.70h4.17v3.20h-1.00v1.00h-3.17z" fill="#fa7b1f"/>
<path d="M120.88 527.70h4.17v3.20h-1.00v1.00h-3.17z" fill="#f7c13a"/>
<path d="M124.04 527.70h4.17v3.20h-1.00v1.00h-3.17z" fill="#a9fb39"/>
<path d="M127.21 527.70h4.17v3.20h-1.00v1.00h-3.17z" fill="#1ecbda"/>
<rect x="130.37" y="527.70" width="3.17" height="3.20" fill="#1fc9dd"/>
<path d="M38.59 530.90h4.17v3.20h-1.00v1.00h-3.17z" fill="#f8721c"/>
<path d="M41.75 530.90h4.17v3.20h-1.00v1.00h-3.17z" fill="#f9781e"/>
<path d="M44.92 530.90h7.33v3.20h-1.00v1.00h-6.33z" fill="#f46617"/>
<path d="M51.25 530.90h4.17v3.20h-1.00v1.00h-3.17z" fill="#fb7e21"/>
<path d="M54.41 530.90h4.17v3.20h-1.00v1.00h-3.17z" fill="#f15d13"/>
<path d="M57.58 530.90h4.17v3.20h-1.00v1.00h-3.17z" fill="#f8721c"/>
<path d="M60.74 530.90h4.17v3.20h-1.00v1.00h-3.17z" fill="#cc2b04"/>
<path d="M63.91 530.90h4.17v3.20h-1.00v1.00h-3.17z" fill="#c82803"/>
<path d="M67.07 530.90h4.17v3.20h-1.00v1.00h-3.17z" fill="#a91601"/>
<path d="M70.24 530.90h4.17v3.20h-1.00v1.00h-3.17z" fill="#d43305"/>
<path d="M73.40 530.90h4.17v3.20h-1.00v1.00h-3.17z" fill="#dc3b07"/>
<path d="M76.57 530.90h7.33v3.20h-1.00v1.00h-6.33z" fill="#fb7e21"/>
<path d="M82.90 530.90h4.17v3.20h-1.00v1.00h-3.17z" fill="#f8721c"/>
<path d="M86.06 530.90h4.17v3.20h-1.00v1.00h-3.17z" fill="#fb7e21"/>
<path d="M89.23 530.90h4.17v3.20h-1.00v1.00h-3.17z" fill="#dc3b07"/>
<path d="M92.39 530.90h4.17v3.20h-1.00v1.00h-3.17z" fill="#f76f1a"/>
<path d="M95.56 530.90h4.17v3.20h-1.00v1.00h-3.17z" fill="#fb8122"/>
<path d="M98.72 530.90h4.17v3.20h-1.00v1.00h-3.17z" fill="#f9bc39"/>
<path d="M101.89 530.90h4.17v3.20h-1.00v1.00h-3.17z" fill="#9cfe40"/>
<path d="M105.05 530.90h4.17v3.20h-1.00v1.00h-3.17z" fill="#55fa76"/>
<path d="M108.22 530.90h4.17v3.20h-1.00v1.00h-3.17z" fill="#5dfc6f"/>
<path d="M111.38 530.90h4.17v3.20h-1.00v1.00h-3.17z" fill="#1ce6b4"/>
<path d="M114.55 530.90h4.17v3.20h-1.00v1.00h-3.17z" fill="#92ff47"/>
<path d="M117.71 530.90h4.17v3.20h-1.00v1.00h-3.17z" fill="#a7fc3a"/>
<path d="M120.88 530.90h4.17v3.20h-1.00v1.00h-3.17z" fill="#fc8423"/>
<path d="M124.04 530.90h4.17v3.20h-1.00v1.00h-3.17z" fill="#dc3b07"/>
<rect x="127.21" y="530.90" width="3.17" height="3.20" fill="#fc8423"/>
<path d="M35.42 534.10h4.17v3.20h-1.00v1.00h-3.17z" fill="#ef5811"/>
<path d="M38.59 534.10h4.17v3.20h-1.00v1.00h-3.17z" fill="#f9751d"/>
<path d="M41.75 534.10h4.17v3.20h-1.00v1.00h-3.17z" fill="#f05b12"/>
<path d="M44.92 534.10h4.17v3.20h-1.00v1.00h-3.17z" fill="#f36315"/>
<path d="M48.08 534.10h4.17v3.20h-1.00v1.00h-3.17z" fill="#f26014"/>
<path d="M51.25 534.10h4.17v3.20h-1.00v1.00h-3.17z" fill="#f36315"/>
<path d="M54.41 534.10h4.17v3.20h-1.00v1.00h-3.17z" fill="#fa7b1f"/>
<path d="M57.58 534.10h4.17v3.20h-1.00v1.00h-3.17z" fill="#d02f05"/>
<path d="M60.74 534.10h4.17v3.20h-1.00v1.00h-3.17z" fill="#d23105"/>
<path d="M63.91 534.10h4.17v3.20h-1.00v1.00h-3.17z" fill="#cc2b04"/>
<path d="M67.07 534.10h4.17v3.20h-1.00v1.00h-3.17z" fill="#d63506"/>
<path d="M70.24 534.10h4.17v3.20h-1.00v1.00h-3.17z" fill="#d02f05"/>
<path d="M73.40 534.10h4.17v3.20h-1.00v1.00h-3.17z" fill="#c82803"/>
<path d="M76.57 534.10h4.17v3.20h-1.00v1.00h-3.17z" fill="#f36315"/>
<path d="M79.73 534.10h4.17v3.20h-1.00v1.00h-3.17z" fill="#f76f1a"/>
<path d="M82.90 534.10h4.17v3.20h-1.00v1.00h-3.17z" fill="#f46617"/>
<path d="M86.06 534.10h4.17v3.20h-1.00v1.00h-3.17z" fill="#fcb136"/>
<path d="M89.23 534.10h4.17v3.20h-1.00v1.00h-3.17z" fill="#f66c19"/>
<path d="M92.39 534.10h4.17v3.20h-1.00v1.00h-3.17z" fill="#f26014"/>
<path d="M95.56 534.10h4.17v3.20h-1.00v1.00h-3.17z" fill="#fbb637"/>
<path d="M98.72 534.10h4.17v3.20h-1.00v1.00h-3.17z" fill="#faba39"/>
<path d="M101.89 534.10h4.17v3.20h-1.00v1.00h-3.17z" fill="#f6c33a"/>
<path d="M105.05 534.10h4.17v3.20h-1.00v1.00h-3.17z" fill="#fbb838"/>
<path d="M108.22 534.10h4.17v3.20h-1.00v1.00h-3.17z" fill="#d4e735"/>
<path d="M111.38 534.10h4.17v3.20h-1.00v1.00h-3.17z" fill="#f5c53a"/>
<path d="M114.55 534.10h4.17v3.20h-1.00v1.00h-3.17z" fill="#8fff49"/>
<rect x="117.71" y="534.10" width="4.17" height="3.20" fill="#1ad2d2"/>
<rect x="120.88" y="534.10" width="4.17" height="3.20" fill="#a1fd3d"/>
<rect x="124.04" y="534.10" width="3.17" height="3.20" fill="#f76f1a"/>
<path d="M35.42 537.30h4.17v3.20h-1.00v1.00h-3.17z" fill="#f46617"/>
<path d="M38.59 537.30h4.17v3.20h-1.00v1.00h-3.17z" fill="#f15d13"/>
<path d="M41.75 537.30h4.17v3.20h-1.00v1.00h-3.17z" fill="#f36315"/>
<path d="M44.92 537.30h4.17v3.20h-1.00v1.00h-3.17z" fill="#f05b12"/>
<path d="M48.08 537.30h4.17v3.20h-1.00v1.00h-3.17z" fill="#f8721c"/>
<path d="M51.25 537.30h4.17v3.20h-1.00v1.00h-3.17z" fill="#f66c19"/>
<path d="M54.41 537.30h4.17v3.20h-1.00v1.00h-3.17z" fill="#f15d13"/>
<path d="M57.58 537.30h4.17v3.20h-1.00v1.00h-3.17z" fill="#d63506"/>
<path d="M60.74 537.30h4.17v3.20h-1.00v1.00h-3.17z" fill="#d23105"/>
<path d="M63.91 537.30h4.17v3.20h-1.00v1.00h-3.17z" fill="#ce2d04"/>
<path d="M67.07 537.30h4.17v3.20h-1.00v1.00h-3.17z" fill="#a91601"/>
<path d="M70.24 537.30h4.17v3.20h-1.00v1.00h-3.17z" fill="#a71401"/>
<path d="M73.40 537.30h4.17v3.20h-1.00v1.00h-3.17z" fill="#a91601"/>
<path d="M76.57 537.30h4.17v3.20h-1.00v1.00h-3.17z" fill="#da3907"/>
<path d="M79.73 537.30h4.17v3.20h-1.00v1.00h-3.17z" fill="#cc2b04"/>
<path d="M82.90 537.30h4.17v3.20h-1.00v1.00h-3.17z" fill="#f15d13"/>
<path d="M86.06 537.30h4.17v3.20h-1.00v1.00h-3.17z" fill="#f56918"/>
<path d="M89.23 537.30h4.17v3.20h-1.00v1.00h-3.17z" fill="#f9781e"/>
<path d="M92.39 537.30h4.17v3.20h-1.00v1.00h-3.17z" fill="#f05b12"/>
<path d="M95.56 537.30h4.17v3.20h-1.00v1.00h-3.17z" fill="#faba39"/>
<path d="M98.72 537.30h4.17v3.20h-1.00v1.00h-3.17z" fill="#f66c19"/>
<path d="M101.89 537.30h4.17v3.20h-1.00v1.00h-3.17z" fill="#f26014"/>
<path d="M105.05 537.30h4.17v3.20h-1.00v1.00h-3.17z" fill="#f76f1a"/>
<path d="M108.22 537.30h4.17v3.20h-1.00v1.00h-3.17z" fill="#f7c13a"/>
<path d="M111.38 537.30h4.17v3.20h-1.00v1.00h-3.17z" fill="#4af880"/>
<rect x="114.55" y="537.30" width="3.17" height="4.20" fill="#1ccdd8"/>
<path d="M35.42 540.50h4.17v3.20h-1.00v1.00h-3.17z" fill="#f05b12"/>
<path d="M38.59 540.50h4.17v3.20h-1.00v1.00h-3.17z" fill="#ef5811"/>
<path d="M41.75 540.50h4.17v3.20h-1.00v1.00h-3.17z" fill="#f05b12"/>
<path d="M44.92 540.50h4.17v3.20h-1.00v1.00h-3.17z" fill="#f76f1a"/>
<path d="M48.08 540.50h4.17v3.20h-1.00v1.00h-3.17z" fill="#f05b12"/>
<path d="M51.25 540.50h4.17v3.20h-1.00v1.00h-3.17z" fill="#ef5811"/>
<path d="M54.41 540.50h4.17v3.20h-1.00v1.00h-3.17z" fill="#f66c19"/>
<path d="M57.58 540.50h4.17v3.20h-1.00v1.00h-3.17z" fill="#cc2b04"/>
<path d="M60.74 540.50h4.17v3.20h-1.00v1.00h-3.17z" fill="#d83706"/>
<path d="M63.91 540.50h4.17v3.20h-1.00v1.00h-3.17z" fill="#d02f05"/>
<path d="M67.07 540.50h4.17v3.20h-1.00v1.00h-3.17z" fill="#9b0f01"/>
<path d="M70.24 540.50h4.17v3.20h-1.00v1.00h-3.17z" fill="#a71401"/>
<path d="M73.40 540.50h4.17v3.20h-1.00v1.00h-3.17z" fill="#ac1701"/>
<path d="M76.57 540.50h4.17v3.20h-1.00v1.00h-3.17z" fill="#d43305"/>
<path d="M79.73 540.50h4.17v3.20h-1.00v1.00h-3.17z" fill="#c82803"/>
<path d="M82.90 540.50h4.17v3.20h-1.00v1.00h-3.17z" fill="#da3907"/>
<path d="M86.06 540.50h4.17v3.20h-1.00v1.00h-3.17z" fill="#d02f05"/>
<path d="M89.23 540.50h4.17v3.20h-1.00v1.00h-3.17z" fill="#d43305"/>
<path d="M92.39 540.50h4.17v3.20h-1.00v1.00h-3.17z" fill="#d83706"/>
<path d="M95.56 540.50h4.17v3.20h-1.00v1.00h-3.17z" fill="#ef5811"/>
<path d="M98.72 540.50h4.17v3.20h-1.00v1.00h-3.17z" fill="#d23105"/>
<path d="M101.89 540.50h4.17v3.20h-1.00v1.00h-3.17z" fill="#da3907"/>
<path d="M105.05 540.50h4.17v3.20h-1.00v1.00h-3.17z" fill="#f9751d"/>
<path d="M108.22 540.50h4.17v3.20h-1.00v1.00h-3.17z" fill="#92ff47"/>
<path d="M111.38 540.50h4.17v3.20h-1.00v1.00h-3.17z" fill="#4294ff"/>
<rect x="114.55" y="540.50" width="3.17" height="4.20" fill="#4143a7"/>
<path d="M35.42 543.70h4.17v3.20h-1.00v1.00h-3.17z" fill="#d83706"/>
<path d="M38.59 543.70h4.17v3.20h-1.00v1.00h-3.17z" fill="#d63506"/>
<path d="M41.75 543.70h4.17v3.20h-1.00v1.00h-3.17z" fill="#ce2d04"/>
<path d="M44.92 543.70h4.17v3.20h-1.00v1.00h-3.17z" fill="#d43305"/>
<path d="M48.08 543.70h4.17v3.20h-1.00v1.00h-3.17z" fill="#af1801"/>
<path d="M51.25 543.70h4.17v3.20h-1.00v1.00h-3.17z" fill="#d02f05"/>
<path d="M54.41 543.70h4.17v3.20h-1.00v1.00h-3.17z" fill="#a71401"/>
<path d="M57.58 543.70h4.17v3.20h-1.00v1.00h-3.17z" fill="#a91601"/>
<path d="M60.74 543.70h4.17v3.20h-1.00v1.00h-3.17z" fill="#d83706"/>
<path d="M63.91 543.70h4.17v3.20h-1.00v1.00h-3.17z" fill="#ce2d04"/>
<path d="M67.07 543.70h4.17v3.20h-1.00v1.00h-3.17z" fill="#d23105"/>
<path d="M70.24 543.70h7.33v3.20h-1.00v1.00h-6.33z" fill="#c82803"/>
<path d="M76.57 543.70h4.17v3.20h-1.00v1.00h-3.17z" fill="#a91601"/>
<path d="M79.73 543.70h4.17v3.20h-1.00v1.00h-3.17z" fill="#a11201"/>
<path d="M82.90 543.70h4.17v3.20h-1.00v1.00h-3.17z" fill="#a41301"/>
<path d="M86.06 543.70h4.17v3.20h-1.00v1.00h-3.17z" fill="#ce2d04"/>
<path d="M89.23 543.70h4.17v3.20h-1.00v1.00h-3.17z" fill="#c82803"/>
<path d="M92.39 543.70h4.17v3.20h-1.00v1.00h-3.17z" fill="#dc3b07"/>
<path d="M95.56 543.70h4.17v3.20h-1.00v1.00h-3.17z" fill="#ca2a04"/>
<path d="M98.72 543.70h4.17v3.20h-1.00v1.00h-3.17z" fill="#7a0403"/>
<path d="M101.89 543.70h4.17v3.20h-1.00v1.00h-3.17z" fill="#a91601"/>
<path d="M105.05 543.70h4.17v3.20h-1.00v1.00h-3.17z" fill="#f9781e"/>
<path d="M108.22 543.70h4.17v3.20h-1.00v1.00h-3.17z" fill="#f8be39"/>
<rect x="111.38" y="543.70" width="4.17" height="3.20" fill="#392a73"/>
<rect x="114.55" y="543.70" width="3.17" height="4.20" fill="#351e58"/>
<rect x="35.42" y="546.90" width="4.17" height="3.20" fill="#d23105"/>
<rect x="38.59" y="546.90" width="7.33" height="3.20" fill="#ca2a04"/>
<path d="M44.92 546.90h4.17v3.20h-1.00v1.00h-3.17z" fill="#c52603"/>
<path d="M48.08 546.90h4.17v3.20h-1.00v1.00h-3.17z" fill="#a91601"/>
<path d="M51.25 546.90h4.17v3.20h-1.00v1.00h-3.17z" fill="#ac1701"/>
<path d="M54.41 546.90h4.17v3.20h-1.00v1.00h-3.17z" fill="#ce2d04"/>
<path d="M57.58 546.90h4.17v3.20h-1.00v1.00h-3.17z" fill="#c82803"/>
<path d="M60.74 546.90h4.17v3.20h-1.00v1.00h-3.17z" fill="#af1801"/>
<path d="M63.91 546.90h4.17v3.20h-1.00v1.00h-3.17z" fill="#d02f05"/>
<path d="M67.07 546.90h4.17v3.20h-1.00v1.00h-3.17z" fill="#cc2b04"/>
<path d="M70.24 546.90h4.17v3.20h-1.00v1.00h-3.17z" fill="#f26014"/>
<path d="M73.40 546.90h4.17v3.20h-1.00v1.00h-3.17z" fill="#ac1701"/>
<path d="M76.57 546.90h4.17v3.20h-1.00v1.00h-3.17z" fill="#980e01"/>
<path d="M79.73 546.90h4.17v3.20h-1.00v1.00h-3.17z" fill="#d02f05"/>
<path d="M82.90 546.90h4.17v3.20h-1.00v1.00h-3.17z" fill="#cc2b04"/>
<path d="M86.06 546.90h4.17v3.20h-1.00v1.00h-3.17z" fill="#d43305"/>
<path d="M89.23 546.90h4.17v3.20h-1.00v1.00h-3.17z" fill="#f56918"/>
<path d="M92.39 546.90h4.17v3.20h-1.00v1.00h-3.17z" fill="#f76f1a"/>
<path d="M95.56 546.90h4.17v3.20h-1.00v1.00h-3.17z" fill="#ca2a04"/>
<path d="M98.72 546.90h4.17v3.20h-1.00v1.00h-3.17z" fill="#b21a01"/>
<path d="M101.89 546.90h4.17v3.20h-1.00v1.00h-3.17z" fill="#da3907"/>
<path d="M105.05 546.90h4.17v3.20h-1.00v1.00h-3.17z" fill="#f9751d"/>
<rect x="108.22" y="546.90" width="3.17" height="4.20" fill="#f7c13a"/>
<rect x="114.55" y="546.90" width="3.17" height="3.20" fill="#372466"/>
<path d="M44.92 550.10h4.17v3.20h-1.00v1.00h-3.17z" fill="#ce2d04"/>
<rect x="48.08" y="550.10" width="4.17" height="3.20" fill="#af1801"/>
<path d="M51.25 550.10h4.17v3.20h-1.00v1.00h-3.17z" fill="#af1801"/>
<rect x="54.41" y="550.10" width="4.17" height="3.20" fill="#f15d13"/>
<rect x="57.58" y="550.10" width="4.17" height="3.20" fill="#c82803"/>
<path d="M60.74 550.10h4.17v3.20h-1.00v1.00h-3.17z" fill="#d23105"/>
<path d="M63.91 550.10h4.17v3.20h-1.00v1.00h-3.17z" fill="#d43305"/>
<path d="M67.07 550.10h4.17v3.20h-1.00v1.00h-3.17z" fill="#cc2b04"/>
<path d="M70.24 550.10h4.17v3.20h-1.00v1.00h-3.17z" fill="#fcb136"/>
<path d="M73.40 550.10h4.17v3.20h-1.00v1.00h-3.17z" fill="#ce2d04"/>
<path d="M76.57 550.10h4.17v3.20h-1.00v1.00h-3.17z" fill="#ac1701"/>
<path d="M79.73 550.10h4.17v3.20h-1.00v1.00h-3.17z" fill="#ce2d04"/>
<path d="M82.90 550.10h4.17v3.20h-1.00v1.00h-3.17z" fill="#f46617"/>
<path d="M86.06 550.10h4.17v3.20h-1.00v1.00h-3.17z" fill="#f9bc39"/>
<path d="M89.23 550.10h4.17v3.20h-1.00v1.00h-3.17z" fill="#d9e436"/>
<path d="M92.39 550.10h4.17v3.20h-1.00v1.00h-3.17z" fill="#dbe236"/>
<path d="M95.56 550.10h4.17v3.20h-1.00v1.00h-3.17z" fill="#e5d938"/>
<path d="M98.72 550.10h4.17v3.20h-1.00v1.00h-3.17z" fill="#d02f05"/>
<path d="M101.89 550.10h4.17v3.20h-1.00v1.00h-3.17z" fill="#e1dd37"/>
<path d="M105.05 550.10h4.17v3.20h-1.00v1.00h-3.17z" fill="#e3db38"/>
<rect x="108.22" y="550.10" width="3.17" height="3.20" fill="#9ffd3f"/>
<rect x="44.92" y="553.30" width="3.17" height="3.20" fill="#d43305"/>
<rect x="51.25" y="553.30" width="3.17" height="3.20" fill="#ca2a04"/>
<rect x="60.74" y="553.30" width="4.17" height="3.20" fill="#ca2a04"/>
<path d="M63.91 553.30h4.17v3.20h-1.00v1.00h-3.17z" fill="#7e0502"/>
<path d="M67.07 553.30h4.17v3.20h-1.00v1.00h-3.17z" fill="#b21a01"/>
<path d="M70.24 553.30h4.17v3.20h-1.00v1.00h-3.17z" fill="#fcb336"/>
<path d="M73.40 553.30h7.33v3.20h-1.00v1.00h-6.33z" fill="#ac1701"/>
<path d="M79.73 553.30h4.17v3.20h-1.00v1.00h-3.17z" fill="#a71401"/>
<path d="M82.90 553.30h4.17v3.20h-1.00v1.00h-3.17z" fill="#fbb637"/>
<path d="M86.06 553.30h4.17v3.20h-1.00v1.00h-3.17z" fill="#b1f936"/>
<path d="M89.23 553.30h4.17v3.20h-1.00v1.00h-3.17z" fill="#f6c33a"/>
<path d="M92.39 553.30h4.17v3.20h-1.00v1.00h-3.17z" fill="#a4fc3c"/>
<path d="M95.56 553.30h7.33v3.20h-1.00v1.00h-6.33z" fill="#dc3b07"/>
<path d="M101.89 553.30h4.17v3.20h-1.00v1.00h-3.17z" fill="#fb8122"/>
<rect x="105.05" y="553.30" width="3.17" height="4.20" fill="#19e3b9"/>
<rect x="63.91" y="556.50" width="4.17" height="3.20" fill="#e5d938"/>
<rect x="67.07" y="556.50" width="4.17" height="3.20" fill="#ca2a04"/>
<path d="M70.24 556.50h4.17v3.20h-1.00v1.00h-3.17z" fill="#a71401"/>
<path d="M73.40 556.50h4.17v3.20h-1.00v1.00h-3.17z" fill="#da3907"/>
<path d="M76.57 556.50h4.17v3.20h-1.00v1.00h-3.17z" fill="#f66c19"/>
<path d="M79.73 556.50h4.17v3.20h-1.00v1.00h-3.17z" fill="#f15d13"/>
<rect x="82.90" y="556.50" width="4.17" height="3.20" fill="#f8be39"/>
<path d="M86.06 556.50h4.17v3.20h-1.00v1.00h-3.17z" fill="#b21a01"/>
<path d="M89.23 556.50h4.17v3.20h-1.00v1.00h-3.17z" fill="#99fe42"/>
<path d="M92.39 556.50h4.17v3.20h-1.00v1.00h-3.17z" fill="#1ae4b6"/>
<path d="M95.56 556.50h4.17v3.20h-1.00v1.00h-3.17z" fill="#dd3d08"/>
<path d="M98.72 556.50h4.17v3.20h-1.00v1.00h-3.17z" fill="#dc3b07"/>
<path d="M101.89 556.50h4.17v3.20h-1.00v1.00h-3.17z" fill="#f5c53a"/>
<rect x="105.05" y="556.50" width="3.17" height="3.20" fill="#3e9bfe"/>
<rect x="70.24" y="559.70" width="4.17" height="3.20" fill="#ef5811"/>
<rect x="73.40" y="559.70" width="4.17" height="3.20" fill="#f26014"/>
<path d="M76.57 559.70h4.17v3.20h-1.00v1.00h-3.17z" fill="#fb7e21"/>
<rect x="79.73" y="559.70" width="3.17" height="4.20" fill="#faba39"/>
<path d="M86.06 559.70h4.17v3.20h-1.00v1.00h-3.17z" fill="#8fff49"/>
<path d="M89.23 559.70h4.17v3.20h-1.00v1.00h-3.17z" fill="#8bff4b"/>
<rect x="92.39" y="559.70" width="4.17" height="3.20" fill="#59fb73"/>
<rect x="95.56" y="559.70" width="4.17" height="3.20" fill="#a9fb39"/>
<rect x="98.72" y="559.70" width="4.17" height="3.20" fill="#1ad4d0"/>
<rect x="101.89" y="559.70" width="3.17" height="3.20" fill="#424bb5"/>
<path d="M76.57 562.90h4.17v3.20h-1.00v1.00h-3.17z" fill="#fc8423"/>
<path d="M79.73 562.90h4.17v3.20h-1.00v1.00h-3.17z" fill="#d4e735"/>
<path d="M82.90 562.90h4.17v3.20h-1.00v1.00h-3.17z" fill="#466be3"/>
<path d="M86.06 562.90h4.17v3.20h-1.00v1.00h-3.17z" fill="#31aff5"/>
<rect x="89.23" y="562.90" width="3.17" height="3.20" fill="#3aa3fc"/>
<rect x="76.57" y="566.10" width="4.17" height="3.20" fill="#a7fc3a"/>
<rect x="79.73" y="566.10" width="4.17" height="3.20" fill="#52fa7a"/>
<rect x="82.90" y="566.10" width="4.17" height="3.20" fill="#46f884"/>
<rect x="86.06" y="566.10" width="3.17" height="3.20" fill="#43f787"/>
</g>
<path d="M46.50 479.40V569.65M62.33 479.40V569.65M78.15 479.40V569.65M93.97 479.40V569.65M109.80 479.40V569.65M125.62 479.40V569.65M30.20 484.50H141.50M30.20 500.50H141.50M30.20 516.50H141.50M30.20 532.50H141.50M30.20 548.50H141.50M30.20 564.50H141.50" stroke="#b0b0b0" stroke-width="0.67" fill="none"/>
<path d="M46.50 569.65v2.9M62.33 569.65v2.9M78.15 569.65v2.9M93.97 569.65v2.9M109.80 569.65v2.9M125.62 569.65v2.9M30.20 484.50h-2.9M30.20 500.50h-2.9M30.20 516.50h-2.9M30.20 532.50h-2.9M30.20 548.50h-2.9M30.20 564.50h-2.9" stroke="#000" stroke-width="0.67" fill="none"/>
<rect x="30.20" y="479.40" width="111.30" height="90.25" fill="none" stroke="#000" stroke-width="0.67"/>
<text transform="translate(49.60 576.25) rotate(-90)" text-anchor="end" font-size="8.33">70°W</text>
<text transform="translate(65.42 576.25) rotate(-90)" text-anchor="end" font-size="8.33">65°W</text>
<text transform="translate(81.25 576.25) rotate(-90)" text-anchor="end" font-size="8.33">60°W</text>
<text transform="translate(97.07 576.25) rotate(-90)" text-anchor="end" font-size="8.33">55°W</text>
<text transform="translate(112.90 576.25) rotate(-90)" text-anchor="end" font-size="8.33">50°W</text>
<text transform="translate(128.72 576.25) rotate(-90)" text-anchor="end" font-size="8.33">45°W</text>
<text x="25.40" y="487.60" text-anchor="end" font-size="8.33">10°N</text>
<text x="25.40" y="503.60" text-anchor="end" font-size="8.33">5°N</text>
<text x="25.40" y="519.60" text-anchor="end" font-size="8.33">0°</text>
<text x="25.40" y="535.60" text-anchor="end" font-size="8.33">5°S</text>
<text x="25.40" y="551.60" text-anchor="end" font-size="8.33">10°S</text>
<text x="25.40" y="567.60" text-anchor="end" font-size="8.33">15°S</text>
<rect x="153.20" y="479.40" width="5.10" height="90.25" fill="url(#tb)" stroke="#000" stroke-width="0.67"/>
<text x="163.80" y="571.62" font-size="8.33">0.004</text>
<text x="163.80" y="548.56" font-size="8.33">0.006</text>
<text x="163.80" y="525.49" font-size="8.33">0.008</text>
<text x="163.80" y="502.42" font-size="8.33">0.010</text>
<path d="M158.30 568.32h2.9M158.30 545.26h2.9M158.30 522.19h2.9M158.30 499.12h2.9" stroke="#000" stroke-width="0.67" fill="none"/>
<text transform="translate(196.60 524.52) rotate(-90)" text-anchor="middle" font-size="8.33">fd (dimensionless)</text>
<rect x="251.30" y="565.80" width="11.52" height="3.85" fill="#30123b"/>
<rect x="262.52" y="564.52" width="11.52" height="5.13" fill="#3d358b"/>
<rect x="273.74" y="568.37" width="11.52" height="1.28" fill="#4559cb"/>
<rect x="284.96" y="567.08" width="11.52" height="2.57" fill="#477bf2"/>
<rect x="296.18" y="567.08" width="11.52" height="2.57" fill="#3e9bfe"/>
<rect x="307.40" y="563.24" width="11.52" height="6.41" fill="#28bceb"/>
<rect x="318.62" y="559.39" width="11.52" height="10.26" fill="#19d5cd"/>
<rect x="329.84" y="559.39" width="11.52" height="10.26" fill="#20eaac"/>
<rect x="341.06" y="554.26" width="11.52" height="15.39" fill="#46f884"/>
<rect x="352.28" y="549.12" width="11.52" height="20.53" fill="#79fe59"/>
<rect x="363.50" y="554.26" width="11.52" height="15.39" fill="#a4fc3c"/>
<rect x="374.72" y="541.43" width="11.52" height="28.22" fill="#c3f134"/>
<rect x="385.94" y="536.30" width="11.52" height="33.35" fill="#e1dd37"/>
<rect x="397.16" y="535.01" width="11.52" height="34.64" fill="#f6c33a"/>
<rect x="408.38" y="529.88" width="11.52" height="39.77" fill="#fea431"/>
<rect x="419.60" y="520.90" width="11.52" height="48.75" fill="#fb7e21"/>
<rect x="430.82" y="483.70" width="11.52" height="85.95" fill="#f05b12"/>
<rect x="442.04" y="496.53" width="11.52" height="73.12" fill="#dd3d08"/>
<rect x="453.26" y="493.96" width="11.52" height="75.69" fill="#c32503"/>
<rect x="464.48" y="559.39" width="11.22" height="10.26" fill="#a11201"/>
<text x="254.60" y="582.45" text-anchor="middle" font-size="8.33">0.004</text>
<text x="283.28" y="582.45" text-anchor="middle" font-size="8.33">0.005</text>
<text x="311.95" y="582.45" text-anchor="middle" font-size="8.33">0.006</text>
<text x="340.63" y="582.45" text-anchor="middle" font-size="8.33">0.007</text>
<text x="369.31" y="582.45" text-anchor="middle" font-size="8.33">0.008</text>
<text x="397.98" y="582.45" text-anchor="middle" font-size="8.33">0.009</text>
<text x="426.66" y="582.45" text-anchor="middle" font-size="8.33">0.010</text>
<text x="455.34" y="582.45" text-anchor="middle" font-size="8.33">0.011</text>
<text x="484.02" y="582.45" text-anchor="middle" font-size="8.33">0.012</text>
<text x="234.50" y="572.75" text-anchor="end" font-size="8.33">0</text>
<text x="234.50" y="547.09" text-anchor="end" font-size="8.33">20</text>
<text x="234.50" y="521.44" text-anchor="end" font-size="8.33">40</text>
<text x="234.50" y="495.78" text-anchor="end" font-size="8.33">60</text>
<path d="M254.60 479.40V569.65M283.28 479.40V569.65M311.95 479.40V569.65M340.63 479.40V569.65M369.31 479.40V569.65M397.98 479.40V569.65M426.66 479.40V569.65M455.34 479.40V569.65M484.02 479.40V569.65M240.40 569.65H486.60M240.40 543.99H486.60M240.40 518.34H486.60M240.40 492.68H486.60" stroke="#b0b0b0" stroke-width="0.67" fill="none"/>
<path d="M254.60 569.65v2.9M283.28 569.65v2.9M311.95 569.65v2.9M340.63 569.65v2.9M369.31 569.65v2.9M397.98 569.65v2.9M426.66 569.65v2.9M455.34 569.65v2.9M484.02 569.65v2.9M240.40 569.65h-2.9M240.40 543.99h-2.9M240.40 518.34h-2.9M240.40 492.68h-2.9" stroke="#000" stroke-width="0.67" fill="none"/>
<rect x="240.40" y="479.40" width="246.20" height="90.25" fill="none" stroke="#000" stroke-width="0.67"/>
<text x="363.50" y="593.55" text-anchor="middle" font-size="8.33">fd (dimensionless)</text>
<text transform="translate(219.30 525.12) rotate(-90)" text-anchor="middle" font-size="8.33">frequency</text>
</svg>
</body></html>
